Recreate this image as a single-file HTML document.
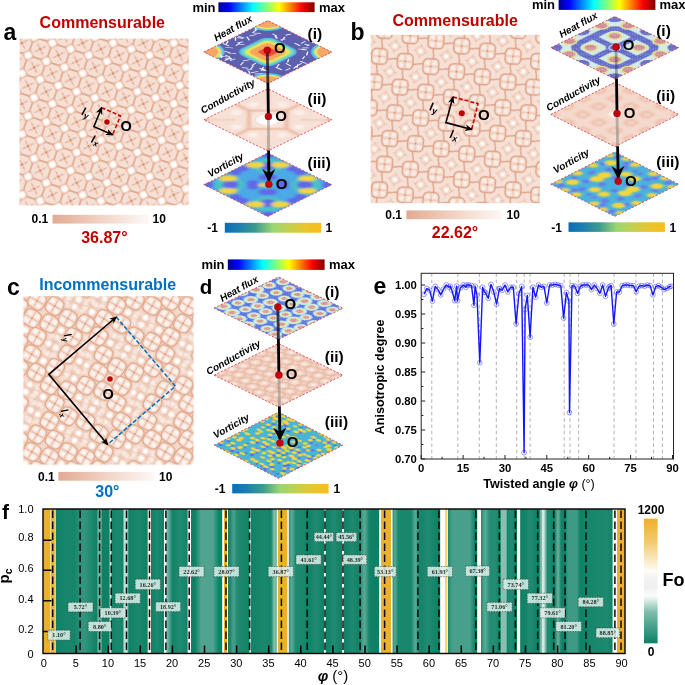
<!DOCTYPE html>
<html><head><meta charset="utf-8"><title>figure</title>
<style>html,body{margin:0;padding:0;background:#fff}svg{display:block}text{font-family:"Liberation Sans",Arial,sans-serif}.se{font-family:"Liberation Serif","Times New Roman",serif}</style>
</head><body>
<svg width="685" height="685" viewBox="0 0 685 685">
<defs>
<linearGradient id="jet" x1="0" x2="1" y1="0" y2="0">
<stop offset="0" stop-color="#00008f"/><stop offset="0.11" stop-color="#0000ff"/><stop offset="0.36" stop-color="#00ffff"/>
<stop offset="0.5" stop-color="#7fff7f"/><stop offset="0.63" stop-color="#ffff00"/><stop offset="0.87" stop-color="#ff0000"/><stop offset="1" stop-color="#7f0000"/></linearGradient>
<linearGradient id="par" x1="0" x2="1" y1="0" y2="0">
<stop offset="0" stop-color="#0b6cba"/><stop offset="0.15" stop-color="#1d7fae"/><stop offset="0.32" stop-color="#3d9b8e"/><stop offset="0.5" stop-color="#9bd672"/>
<stop offset="0.68" stop-color="#c6cf4c"/><stop offset="0.85" stop-color="#ecc42c"/><stop offset="1" stop-color="#f6be1c"/></linearGradient>
<linearGradient id="sal" x1="0" x2="1" y1="0" y2="0">
<stop offset="0" stop-color="#e2aa92"/><stop offset="0.5" stop-color="#f1d3c5"/><stop offset="1" stop-color="#fdf8f6"/></linearGradient>
<linearGradient id="fo" x1="0" x2="0" y1="0" y2="1">
<stop offset="0" stop-color="#ecb02a"/><stop offset="0.2" stop-color="#f3cd75"/><stop offset="0.42" stop-color="#fefcf6"/><stop offset="0.48" stop-color="#f2f2f2"/><stop offset="0.55" stop-color="#efefef"/>
<stop offset="0.62" stop-color="#fbfdfc"/><stop offset="0.75" stop-color="#7dbdac"/><stop offset="1" stop-color="#0d8064"/></linearGradient>
<radialGradient id="wb"><stop offset="0" stop-color="#fff"/><stop offset="0.3" stop-color="#fffdfc"/><stop offset="0.55" stop-color="#fcf1ec" stop-opacity="0.85"/><stop offset="0.8" stop-color="#f8e4da" stop-opacity="0.32"/><stop offset="1" stop-color="#f6e0d5" stop-opacity="0"/></radialGradient>
<filter id="bl4" x="-5%" y="-5%" width="110%" height="110%"><feGaussianBlur stdDeviation="0.6"/></filter>
<filter id="bl3" x="-5%" y="-5%" width="110%" height="110%"><feGaussianBlur stdDeviation="0.55"/></filter>
<pattern id="texa" width="19.2" height="19.2" patternUnits="userSpaceOnUse" patternTransform="translate(107,122) rotate(18.43)"><rect width="19.2" height="19.2" fill="#f6e0d5"/><polygon points="19.20,5.62 19.20,13.58 13.58,19.20 5.62,19.20 0.00,13.58 0.00,5.62 5.62,0.00 13.58,0.00" fill="none" stroke="#e3ac91" stroke-width="1.75" stroke-linejoin="round"/><path d="M5.00 5.00L14.20 14.20M5.00 14.20L14.20 5.00" stroke="#e9bba5" stroke-width="1.0" stroke-linecap="round"/><path d="M6.40 9.6h6.4M9.6 6.40v6.4" stroke="#e9bba5" stroke-width="0.6" stroke-opacity="0.7"/><circle cx="12.45" cy="12.45" r="0.75" fill="#d68f6d" fill-opacity="0.75"/><circle cx="6.75" cy="12.45" r="0.75" fill="#d68f6d" fill-opacity="0.75"/><circle cx="12.45" cy="6.75" r="0.75" fill="#d68f6d" fill-opacity="0.75"/><circle cx="6.75" cy="6.75" r="0.75" fill="#d68f6d" fill-opacity="0.75"/><circle cx="9.6" cy="9.6" r="1.25" fill="#d68f6d"/><circle cx="0" cy="0" r="5.7" fill="url(#wb)"/><circle cx="19.2" cy="0" r="5.7" fill="url(#wb)"/><circle cx="0" cy="19.2" r="5.7" fill="url(#wb)"/><circle cx="19.2" cy="19.2" r="5.7" fill="url(#wb)"/></pattern>
<pattern id="texb" width="26.2" height="26.2" patternUnits="userSpaceOnUse" patternTransform="translate(461.7,112.8) rotate(11.31)"><rect width="26.2" height="26.2" fill="#f6e0d5"/><g transform="rotate(-7 13.1 13.1)"><rect x="5.30" y="5.30" width="15.6" height="15.6" rx="4.6" fill="none" stroke="#dfa287" stroke-width="1.5"/><path d="M6.30 13.1h13.6M13.1 6.30v13.6" stroke="#e9bba5" stroke-width="0.8"/><circle cx="16.7" cy="16.7" r="1.9" fill="#fbf1ec" fill-opacity="0.8"/><circle cx="9.5" cy="16.7" r="1.9" fill="#fbf1ec" fill-opacity="0.8"/><circle cx="16.7" cy="9.5" r="1.9" fill="#fbf1ec" fill-opacity="0.8"/><circle cx="9.5" cy="9.5" r="1.9" fill="#fbf1ec" fill-opacity="0.8"/><circle cx="13.1" cy="13.1" r="1.0" fill="#d68f6d"/></g><path d="M14.00 5.30Q14.30 2.65 13.1 0M12.20 20.90Q11.90 23.55 13.1 26.2M5.30 12.20Q2.65 11.90 0 13.1M20.90 14.00Q23.55 14.30 26.2 13.1" fill="none" stroke="#dfa287" stroke-width="1.4"/><path d="M-6 0L0 -6L6 0L0 6Z" fill="none" stroke="#e9bba5" stroke-width="0.95" stroke-opacity="1"/><path d="M-7.5 0h15M0 -7.5v15" stroke="#e9bba5" stroke-width="0.8" stroke-opacity="0.9"/><circle cx="0" cy="0" r="3.6" fill="url(#wb)"/><path d="M20.2 0L26.2 -6L32.2 0L26.2 6Z" fill="none" stroke="#e9bba5" stroke-width="0.95" stroke-opacity="1"/><path d="M18.7 0h15M26.2 -7.5v15" stroke="#e9bba5" stroke-width="0.8" stroke-opacity="0.9"/><circle cx="26.2" cy="0" r="3.6" fill="url(#wb)"/><path d="M-6 26.2L0 20.2L6 26.2L0 32.2Z" fill="none" stroke="#e9bba5" stroke-width="0.95" stroke-opacity="1"/><path d="M-7.5 26.2h15M0 18.7v15" stroke="#e9bba5" stroke-width="0.8" stroke-opacity="0.9"/><circle cx="0" cy="26.2" r="3.6" fill="url(#wb)"/><path d="M20.2 26.2L26.2 20.2L32.2 26.2L26.2 32.2Z" fill="none" stroke="#e9bba5" stroke-width="0.95" stroke-opacity="1"/><path d="M18.7 26.2h15M26.2 18.7v15" stroke="#e9bba5" stroke-width="0.8" stroke-opacity="0.9"/><circle cx="26.2" cy="26.2" r="3.6" fill="url(#wb)"/></pattern>
<pattern id="texc1" width="8.6" height="8.6" patternUnits="userSpaceOnUse" patternTransform="translate(110,379) rotate(45) translate(-4.3,-4.3)"><rect x="0" y="0" width="8.60" height="8.60" rx="2.8" fill="none" stroke="#e3ac91" stroke-width="1.2" stroke-opacity="0.36"/><circle cx="4.3" cy="4.3" r="2.1" fill="#fff" fill-opacity="0.4"/></pattern>
<pattern id="texc2" width="8.6" height="8.6" patternUnits="userSpaceOnUse" patternTransform="translate(110,379) rotate(15) translate(-4.3,-4.3)"><rect x="0" y="0" width="8.60" height="8.60" rx="2.8" fill="none" stroke="#e3ac91" stroke-width="1.2" stroke-opacity="0.36"/><circle cx="4.3" cy="4.3" r="2.1" fill="#fff" fill-opacity="0.4"/></pattern>
<g id="cm"><rect x="-8.3" y="-8.3" width="16.6" height="16.6" rx="5.2" fill="#f6e0d5" stroke="#e3ac91" stroke-width="1.35"/><path d="M-7.300000000000001 0H7.300000000000001M0 -7.300000000000001V7.300000000000001" stroke="#e9bba5" stroke-width="1.0"/><circle cx="3.9" cy="3.9" r="2.3" fill="#fdf6f2" fill-opacity="0.85"/><circle cx="-3.9" cy="3.9" r="2.3" fill="#fdf6f2" fill-opacity="0.85"/><circle cx="3.9" cy="-3.9" r="2.3" fill="#fdf6f2" fill-opacity="0.85"/><circle cx="-3.9" cy="-3.9" r="2.3" fill="#fdf6f2" fill-opacity="0.85"/><circle r="1.0" fill="#d68f6d" fill-opacity="0.8"/></g>
<clipPath id="cclip"><rect x="22.8" y="295.6" width="171.4" height="169.6"/></clipPath>
<marker id="ah" viewBox="0 0 10 10" refX="8.5" refY="5" markerWidth="5.2" markerHeight="5.2" orient="auto-start-reverse"><path d="M0 0.8L10 5L0 9.2L2.8 5Z" fill="#000"/></marker>
<marker id="ahL" viewBox="0 0 10 10" refX="8.8" refY="5" markerWidth="4.6" markerHeight="4.6" orient="auto-start-reverse"><path d="M0 0.5L10 5L0 9.5L3 5Z" fill="#000"/></marker>
<filter id="sb2" x="-20%" y="-20%" width="140%" height="140%"><feGaussianBlur stdDeviation="2"/></filter>
<filter id="sb3" x="-20%" y="-20%" width="140%" height="140%"><feGaussianBlur stdDeviation="3.2"/></filter>
<filter id="sb15" x="-20%" y="-20%" width="140%" height="140%"><feGaussianBlur stdDeviation="1.6"/></filter>
<filter id="sb08" x="-20%" y="-20%" width="140%" height="140%"><feGaussianBlur stdDeviation="0.9"/></filter>
<filter id="sb1" x="-20%" y="-20%" width="140%" height="140%"><feGaussianBlur stdDeviation="1.1"/></filter>
<filter id="sb05" x="-20%" y="-20%" width="140%" height="140%"><feGaussianBlur stdDeviation="0.6"/></filter>
<pattern id="mdots" width="2.6" height="2.6" patternUnits="userSpaceOnUse"><circle cx="0.8" cy="0.8" r="0.75" fill="#a8404e"/><circle cx="2.1" cy="2.1" r="0.6" fill="#b85060"/></pattern>
<pattern id="condd" width="15" height="15" patternUnits="userSpaceOnUse" patternTransform="rotate(15)"><rect x="1" y="1" width="13" height="13" rx="4.5" fill="none" stroke="#e3ac94" stroke-width="1.5"/><circle cx="7.5" cy="7.5" r="2.8" fill="#fbeee8"/></pattern>
<marker id="av" viewBox="0 0 10 10" refX="9" refY="5" markerWidth="4.7" markerHeight="4.7" orient="auto"><path d="M0 0L10 5L0 10L3.2 5Z" fill="#000"/></marker>
<linearGradient id="lfade" x1="0" x2="0" y1="0" y2="1"><stop offset="0" stop-color="#7a3a30"/><stop offset="0.5" stop-color="#2a2030"/><stop offset="1" stop-color="#000"/></linearGradient>
<clipPath id="dc1"><rect x="-50" y="-50" width="100" height="100"/></clipPath>
<clipPath id="dc2"><rect x="-50" y="-50" width="100" height="100"/></clipPath>
<clipPath id="dc3"><rect x="-50" y="-50" width="100" height="100"/></clipPath>
<pattern id="wdots" width="4" height="4" patternUnits="userSpaceOnUse"><circle cx="1" cy="1" r="0.7" fill="#fff" fill-opacity="0.8"/><circle cx="3" cy="3" r="0.6" fill="#fff" fill-opacity="0.6"/></pattern>
<clipPath id="dc4"><rect x="-50" y="-50" width="100" height="100"/></clipPath>
<clipPath id="dc5"><rect x="-50" y="-50" width="100" height="100"/></clipPath>
<clipPath id="dc6"><rect x="-50" y="-50" width="100" height="100"/></clipPath>
<clipPath id="dc7"><rect x="-50" y="-50" width="100" height="100"/></clipPath>
<clipPath id="dc8"><rect x="-50" y="-50" width="100" height="100"/></clipPath>
<clipPath id="dc9"><rect x="-50" y="-50" width="100" height="100"/></clipPath>
<linearGradient id="heat" x1="0" x2="1" y1="0" y2="0"><stop offset="0.00000" stop-color="#ecb02a"/><stop offset="0.01203" stop-color="#ecb02a"/><stop offset="0.01246" stop-color="#eeb73c"/><stop offset="0.01289" stop-color="#f8dc98"/><stop offset="0.01332" stop-color="#f8dc98"/><stop offset="0.01375" stop-color="#f4cd74"/><stop offset="0.01418" stop-color="#ecb02a"/><stop offset="0.01933" stop-color="#ecb02a"/><stop offset="0.01976" stop-color="#f0c159"/><stop offset="0.02019" stop-color="#e2e8d4"/><stop offset="0.02062" stop-color="#e5f1eb"/><stop offset="0.02105" stop-color="#e5f1eb"/><stop offset="0.02148" stop-color="#b0d5ca"/><stop offset="0.02191" stop-color="#2a9076"/><stop offset="0.02234" stop-color="#0f8266"/><stop offset="0.04124" stop-color="#18866c"/><stop offset="0.05369" stop-color="#158569"/><stop offset="0.05971" stop-color="#218b71"/><stop offset="0.06701" stop-color="#34957e"/><stop offset="0.07216" stop-color="#32947c"/><stop offset="0.09107" stop-color="#108266"/><stop offset="0.09192" stop-color="#0f8266"/><stop offset="0.09450" stop-color="#6ab1a0"/><stop offset="0.09966" stop-color="#6ab1a0"/><stop offset="0.10223" stop-color="#0e8165"/><stop offset="0.11340" stop-color="#0e8165"/><stop offset="0.11383" stop-color="#1b886d"/><stop offset="0.11512" stop-color="#d9eae4"/><stop offset="0.11684" stop-color="#d9eae4"/><stop offset="0.11813" stop-color="#1c886e"/><stop offset="0.11856" stop-color="#108266"/><stop offset="0.12887" stop-color="#1e896f"/><stop offset="0.13660" stop-color="#138468"/><stop offset="0.13703" stop-color="#18866b"/><stop offset="0.13960" stop-color="#b7d9d1"/><stop offset="0.14003" stop-color="#bcdcd4"/><stop offset="0.14433" stop-color="#bcdcd4"/><stop offset="0.14476" stop-color="#b6d9d1"/><stop offset="0.14734" stop-color="#158569"/><stop offset="0.14777" stop-color="#108266"/><stop offset="0.16237" stop-color="#1b886d"/><stop offset="0.17912" stop-color="#0f8165"/><stop offset="0.17955" stop-color="#53a389"/><stop offset="0.18041" stop-color="#fdf6e4"/><stop offset="0.18471" stop-color="#fdf6e4"/><stop offset="0.18514" stop-color="#caddc9"/><stop offset="0.18600" stop-color="#208a6f"/><stop offset="0.18643" stop-color="#0f8266"/><stop offset="0.19631" stop-color="#1e896f"/><stop offset="0.20662" stop-color="#0f8165"/><stop offset="0.20704" stop-color="#0f8165"/><stop offset="0.20747" stop-color="#479f89"/><stop offset="0.20790" stop-color="#a5d0c3"/><stop offset="0.20833" stop-color="#f1f7f3"/><stop offset="0.21134" stop-color="#f1f7f3"/><stop offset="0.21177" stop-color="#cce4dd"/><stop offset="0.21220" stop-color="#9bcbbf"/><stop offset="0.21263" stop-color="#83beb0"/><stop offset="0.22251" stop-color="#118367"/><stop offset="0.23497" stop-color="#228b72"/><stop offset="0.24227" stop-color="#1a876d"/><stop offset="0.24785" stop-color="#128367"/><stop offset="0.24828" stop-color="#60ac98"/><stop offset="0.24871" stop-color="#c2ded5"/><stop offset="0.24914" stop-color="#fdfdfa"/><stop offset="0.25387" stop-color="#fdfdfa"/><stop offset="0.25430" stop-color="#add4c8"/><stop offset="0.25473" stop-color="#4aa08a"/><stop offset="0.25515" stop-color="#0e8165"/><stop offset="0.26117" stop-color="#0e8165"/><stop offset="0.27148" stop-color="#4fa38f"/><stop offset="0.29210" stop-color="#4fa38f"/><stop offset="0.30241" stop-color="#0e8165"/><stop offset="0.30756" stop-color="#0e8165"/><stop offset="0.30799" stop-color="#56a692"/><stop offset="0.30842" stop-color="#cde4dc"/><stop offset="0.30885" stop-color="#fdfdfa"/><stop offset="0.31014" stop-color="#fdfdfa"/><stop offset="0.31100" stop-color="#ecb02a"/><stop offset="0.31572" stop-color="#ecb02a"/><stop offset="0.31615" stop-color="#f2ca6f"/><stop offset="0.31658" stop-color="#fdfdfa"/><stop offset="0.31744" stop-color="#fdfdfa"/><stop offset="0.31787" stop-color="#9eccbf"/><stop offset="0.31830" stop-color="#278e75"/><stop offset="0.31873" stop-color="#108266"/><stop offset="0.32174" stop-color="#1b886d"/><stop offset="0.32646" stop-color="#469e89"/><stop offset="0.32818" stop-color="#479f89"/><stop offset="0.33290" stop-color="#258d74"/><stop offset="0.33634" stop-color="#1e896f"/><stop offset="0.34708" stop-color="#18866b"/><stop offset="0.35395" stop-color="#128367"/><stop offset="0.35438" stop-color="#3e9a83"/><stop offset="0.35481" stop-color="#87c0b1"/><stop offset="0.35524" stop-color="#c2ded5"/><stop offset="0.35653" stop-color="#c2ded5"/><stop offset="0.35696" stop-color="#96c7ba"/><stop offset="0.35739" stop-color="#4ca18b"/><stop offset="0.35782" stop-color="#118267"/><stop offset="0.37801" stop-color="#1b886d"/><stop offset="0.39003" stop-color="#148469"/><stop offset="0.39175" stop-color="#1c886e"/><stop offset="0.39304" stop-color="#2b9078"/><stop offset="0.39433" stop-color="#469e89"/><stop offset="0.39648" stop-color="#7abaaa"/><stop offset="0.39734" stop-color="#85bfb1"/><stop offset="0.39820" stop-color="#85bfb1"/><stop offset="0.39905" stop-color="#7abaaa"/><stop offset="0.40077" stop-color="#50a48f"/><stop offset="0.40120" stop-color="#83beae"/><stop offset="0.40163" stop-color="#cce4dc"/><stop offset="0.40206" stop-color="#fdfdfa"/><stop offset="0.40292" stop-color="#fdfdfa"/><stop offset="0.40335" stop-color="#faf0d7"/><stop offset="0.40378" stop-color="#ecb02a"/><stop offset="0.41838" stop-color="#ecb12c"/><stop offset="0.41967" stop-color="#ecb22f"/><stop offset="0.42010" stop-color="#f8e4b7"/><stop offset="0.42053" stop-color="#fdfdfa"/><stop offset="0.42139" stop-color="#fdfdfa"/><stop offset="0.42182" stop-color="#d9eae4"/><stop offset="0.42225" stop-color="#80bcac"/><stop offset="0.42268" stop-color="#2b9078"/><stop offset="0.42569" stop-color="#4fa38f"/><stop offset="0.42698" stop-color="#57a794"/><stop offset="0.42826" stop-color="#55a693"/><stop offset="0.43041" stop-color="#429c86"/><stop offset="0.43299" stop-color="#278e75"/><stop offset="0.43557" stop-color="#1d896e"/><stop offset="0.44545" stop-color="#1c886e"/><stop offset="0.45662" stop-color="#118267"/><stop offset="0.46306" stop-color="#18866c"/><stop offset="0.46907" stop-color="#228b72"/><stop offset="0.47552" stop-color="#17866b"/><stop offset="0.48196" stop-color="#0f8166"/><stop offset="0.48239" stop-color="#479f89"/><stop offset="0.48282" stop-color="#a6d0c4"/><stop offset="0.48325" stop-color="#f1f7f3"/><stop offset="0.48497" stop-color="#f1f7f3"/><stop offset="0.48540" stop-color="#cbe3db"/><stop offset="0.48625" stop-color="#0f8165"/><stop offset="0.49356" stop-color="#17866b"/><stop offset="0.50000" stop-color="#228b72"/><stop offset="0.50644" stop-color="#17866b"/><stop offset="0.51332" stop-color="#0f8165"/><stop offset="0.51375" stop-color="#5aa894"/><stop offset="0.51418" stop-color="#b8d9cf"/><stop offset="0.51460" stop-color="#f1f7f3"/><stop offset="0.51632" stop-color="#f1f7f3"/><stop offset="0.51675" stop-color="#b8d9cf"/><stop offset="0.51718" stop-color="#5aa894"/><stop offset="0.51761" stop-color="#0f8165"/><stop offset="0.52577" stop-color="#18866b"/><stop offset="0.53179" stop-color="#1e896f"/><stop offset="0.54081" stop-color="#138468"/><stop offset="0.54381" stop-color="#1a876d"/><stop offset="0.54682" stop-color="#30937b"/><stop offset="0.55026" stop-color="#50a48f"/><stop offset="0.55198" stop-color="#56a793"/><stop offset="0.55412" stop-color="#4ea38e"/><stop offset="0.55928" stop-color="#208a70"/><stop offset="0.56229" stop-color="#128368"/><stop offset="0.57002" stop-color="#0e8165"/><stop offset="0.57689" stop-color="#0e8165"/><stop offset="0.57732" stop-color="#30937a"/><stop offset="0.57818" stop-color="#dbebe5"/><stop offset="0.57861" stop-color="#fdfdfa"/><stop offset="0.58076" stop-color="#fdfdfa"/><stop offset="0.58119" stop-color="#efbd4d"/><stop offset="0.58162" stop-color="#ecb02a"/><stop offset="0.59708" stop-color="#ecb02b"/><stop offset="0.59751" stop-color="#faf0d8"/><stop offset="0.59794" stop-color="#fdfdfa"/><stop offset="0.59966" stop-color="#fdfdfa"/><stop offset="0.60009" stop-color="#edf5f0"/><stop offset="0.60095" stop-color="#56a692"/><stop offset="0.60137" stop-color="#2e9279"/><stop offset="0.60352" stop-color="#4ca18d"/><stop offset="0.60481" stop-color="#53a591"/><stop offset="0.60610" stop-color="#4da28d"/><stop offset="0.60954" stop-color="#238c72"/><stop offset="0.61168" stop-color="#19876c"/><stop offset="0.62457" stop-color="#1a876c"/><stop offset="0.63144" stop-color="#18866b"/><stop offset="0.63359" stop-color="#218b71"/><stop offset="0.63617" stop-color="#3b9882"/><stop offset="0.63832" stop-color="#52a490"/><stop offset="0.63960" stop-color="#57a794"/><stop offset="0.64089" stop-color="#53a591"/><stop offset="0.64347" stop-color="#36967f"/><stop offset="0.64562" stop-color="#208a70"/><stop offset="0.64777" stop-color="#15856a"/><stop offset="0.65206" stop-color="#16856a"/><stop offset="0.66108" stop-color="#228b72"/><stop offset="0.66838" stop-color="#1a876d"/><stop offset="0.67826" stop-color="#0f8266"/><stop offset="0.68213" stop-color="#0e8165"/><stop offset="0.68299" stop-color="#d5e8e1"/><stop offset="0.68342" stop-color="#fdfdfa"/><stop offset="0.69029" stop-color="#fdfdfa"/><stop offset="0.69072" stop-color="#fcf4e0"/><stop offset="0.69115" stop-color="#f8dfa0"/><stop offset="0.69158" stop-color="#f6d27a"/><stop offset="0.69416" stop-color="#f6d27a"/><stop offset="0.69459" stop-color="#f7d788"/><stop offset="0.69502" stop-color="#faecc8"/><stop offset="0.69545" stop-color="#fdfdfa"/><stop offset="0.69588" stop-color="#b1d6cb"/><stop offset="0.69631" stop-color="#55a691"/><stop offset="0.69674" stop-color="#1f8a70"/><stop offset="0.70275" stop-color="#489f8a"/><stop offset="0.73368" stop-color="#489f8a"/><stop offset="0.74227" stop-color="#0e8165"/><stop offset="0.74570" stop-color="#0f8165"/><stop offset="0.74656" stop-color="#d5e6d7"/><stop offset="0.74699" stop-color="#fdfaee"/><stop offset="0.75172" stop-color="#fdfaef"/><stop offset="0.75215" stop-color="#c6decf"/><stop offset="0.75258" stop-color="#6bb09b"/><stop offset="0.75301" stop-color="#258d74"/><stop offset="0.75816" stop-color="#52a490"/><stop offset="0.76031" stop-color="#56a793"/><stop offset="0.76246" stop-color="#4ba18c"/><stop offset="0.76675" stop-color="#2a8f77"/><stop offset="0.76933" stop-color="#228c72"/><stop offset="0.77620" stop-color="#258d74"/><stop offset="0.78522" stop-color="#118367"/><stop offset="0.78780" stop-color="#87c0b2"/><stop offset="0.79553" stop-color="#88c1b3"/><stop offset="0.79811" stop-color="#15856a"/><stop offset="0.80369" stop-color="#228b72"/><stop offset="0.80799" stop-color="#1b886d"/><stop offset="0.81400" stop-color="#0f8266"/><stop offset="0.81443" stop-color="#37967c"/><stop offset="0.81529" stop-color="#fdfaee"/><stop offset="0.81959" stop-color="#fdfaee"/><stop offset="0.82045" stop-color="#36957c"/><stop offset="0.82088" stop-color="#0e8165"/><stop offset="0.82904" stop-color="#148469"/><stop offset="0.83634" stop-color="#228b72"/><stop offset="0.84192" stop-color="#1a876d"/><stop offset="0.84923" stop-color="#0f8266"/><stop offset="0.85266" stop-color="#0e8165"/><stop offset="0.85309" stop-color="#1f8a70"/><stop offset="0.85481" stop-color="#73b6a6"/><stop offset="0.85610" stop-color="#73b6a6"/><stop offset="0.85653" stop-color="#7fbcae"/><stop offset="0.85739" stop-color="#bddcd5"/><stop offset="0.85782" stop-color="#d5e9e4"/><stop offset="0.86082" stop-color="#d5e9e4"/><stop offset="0.86125" stop-color="#cfe6e0"/><stop offset="0.86254" stop-color="#75b7a7"/><stop offset="0.86426" stop-color="#77b8a8"/><stop offset="0.86598" stop-color="#2a9077"/><stop offset="0.86641" stop-color="#1c886e"/><stop offset="0.86985" stop-color="#228b72"/><stop offset="0.87672" stop-color="#118267"/><stop offset="0.87887" stop-color="#148469"/><stop offset="0.88058" stop-color="#238c72"/><stop offset="0.88359" stop-color="#58a895"/><stop offset="0.88445" stop-color="#61ac9a"/><stop offset="0.88531" stop-color="#61ac9a"/><stop offset="0.88660" stop-color="#52a490"/><stop offset="0.88918" stop-color="#238c72"/><stop offset="0.89089" stop-color="#148469"/><stop offset="0.89433" stop-color="#0e8165"/><stop offset="0.89691" stop-color="#0e8165"/><stop offset="0.90206" stop-color="#3e9a84"/><stop offset="0.91753" stop-color="#3e9a84"/><stop offset="0.92268" stop-color="#0f8165"/><stop offset="0.95060" stop-color="#1b886d"/><stop offset="0.96091" stop-color="#1b886e"/><stop offset="0.96821" stop-color="#208a70"/><stop offset="0.97809" stop-color="#108266"/><stop offset="0.97852" stop-color="#6fb3a1"/><stop offset="0.97895" stop-color="#e5f1eb"/><stop offset="0.97938" stop-color="#fdfdfa"/><stop offset="0.98540" stop-color="#fdfdfa"/><stop offset="0.98625" stop-color="#ecb02a"/><stop offset="1.00000" stop-color="#ecb02a"/></linearGradient>
</defs>
<rect width="685" height="685" fill="#fff"/>
<rect x="19" y="38" width="170.2" height="168" fill="url(#texa)" filter="url(#bl4)"/>
<rect x="19" y="38" width="170.2" height="168" fill="none" stroke="#fff" stroke-width="1.2"/>
<rect x="370" y="34.2" width="170.5" height="169.6" fill="url(#texb)" filter="url(#bl3)"/>
<rect x="370" y="34.2" width="170.5" height="169.6" fill="none" stroke="#fff" stroke-width="1.2"/>
<g filter="url(#bl3)"><rect x="22.8" y="295.6" width="171.4" height="169.6" fill="#f6e0d5"/>
<rect x="22.8" y="295.6" width="171.4" height="169.6" fill="url(#texc1)"/>
<rect x="22.8" y="295.6" width="171.4" height="169.6" fill="url(#texc2)"/>
<g clip-path="url(#cclip)"><use href="#cm" transform="translate(85.6,287.8) rotate(30)"/><use href="#cm" transform="translate(134.4,470.2) rotate(30)"/><use href="#cm" transform="translate(18.8,403.4) rotate(30)"/><use href="#cm" transform="translate(201.2,354.6) rotate(30)"/><use href="#cm" transform="translate(85.5,421.5) rotate(30)"/><use href="#cm" transform="translate(152.5,403.5) rotate(30)"/><use href="#cm" transform="translate(67.5,354.5) rotate(30)"/><use href="#cm" transform="translate(134.5,336.5) rotate(30)"/><use href="#cm" transform="translate(18.6,305.8) rotate(30)"/><use href="#cm" transform="translate(201.4,452.2) rotate(30)"/><use href="#cm" transform="translate(183.2,287.6) rotate(30)"/><use href="#cm" transform="translate(36.8,470.4) rotate(30)"/><use href="#cm" transform="translate(183.2,421.2) rotate(30)"/><use href="#cm" transform="translate(36.8,336.8) rotate(30)"/><use href="#cm" transform="translate(152.2,305.8) rotate(30)"/><use href="#cm" transform="translate(67.8,452.2) rotate(30)"/><use href="#cm" transform="translate(85.8,385.5) rotate(30)"/><use href="#cm" transform="translate(134.2,372.5) rotate(30)"/><use href="#cm" transform="translate(103.5,354.8) rotate(30)"/><use href="#cm" transform="translate(116.5,403.2) rotate(30)"/><use href="#cm" transform="translate(201.5,318.6) rotate(30)"/><use href="#cm" transform="translate(170.4,470.5) rotate(30)"/><use href="#cm" transform="translate(18.5,439.4) rotate(30)"/><use href="#cm" transform="translate(49.6,287.5) rotate(30)"/><use href="#cm" transform="translate(152.2,439.5) rotate(30)"/><use href="#cm" transform="translate(36.5,372.7) rotate(30)"/><use href="#cm" transform="translate(67.8,318.5) rotate(30)"/><use href="#cm" transform="translate(116.3,305.5) rotate(30)"/><use href="#cm" transform="translate(103.7,452.5) rotate(30)"/><use href="#cm" transform="translate(183.5,385.3) rotate(30)"/><use href="#cm" transform="translate(49.5,421.2) rotate(30)"/><use href="#cm" transform="translate(170.5,336.8) rotate(30)"/><use href="#cm" transform="translate(170.2,372.8) rotate(30)"/><use href="#cm" transform="translate(85.3,323.8) rotate(30)"/><use href="#cm" transform="translate(134.7,434.2) rotate(30)"/><use href="#cm" transform="translate(49.8,385.2) rotate(30)"/><use href="#cm" transform="translate(165.2,354.3) rotate(30)"/><use href="#cm" transform="translate(54.8,403.7) rotate(30)"/><use href="#cm" transform="translate(103.8,318.8) rotate(30)"/><use href="#cm" transform="translate(116.2,439.2) rotate(30)"/><use href="#cm" transform="translate(182.9,323.6) rotate(30)"/><use href="#cm" transform="translate(37.1,434.4) rotate(30)"/><use href="#cm" transform="translate(121.5,288.1) rotate(30)"/><use href="#cm" transform="translate(54.6,306.1) rotate(30)"/><use href="#cm" transform="translate(98.5,469.9) rotate(30)"/><use href="#cm" transform="translate(165.4,451.9) rotate(30)"/><use href="#cm" transform="translate(200.9,390.5) rotate(30)"/><use href="#cm" transform="translate(19.1,367.5) rotate(30)"/><use href="#cm" transform="translate(67.2,390.5) rotate(30)"/><use href="#cm" transform="translate(152.8,367.5) rotate(30)"/><use href="#cm" transform="translate(98.5,336.2) rotate(30)"/><use href="#cm" transform="translate(121.5,421.8) rotate(30)"/><use href="#cm" transform="translate(31.6,354.2) rotate(30)"/><use href="#cm" transform="translate(188.4,403.8) rotate(30)"/><use href="#cm" transform="translate(165.5,318.3) rotate(30)"/><use href="#cm" transform="translate(54.5,439.7) rotate(30)"/><use href="#cm" transform="translate(85.2,457.4) rotate(30)"/><use href="#cm" transform="translate(170.7,434.5) rotate(30)"/><use href="#cm" transform="translate(49.3,323.5) rotate(30)"/><use href="#cm" transform="translate(134.8,300.6) rotate(30)"/><use href="#cm" transform="translate(116.8,367.2) rotate(30)"/><use href="#cm" transform="translate(103.2,390.8) rotate(30)"/><use href="#cm" transform="translate(98.2,372.2) rotate(30)"/><use href="#cm" transform="translate(121.8,385.8) rotate(30)"/><use href="#cm" transform="translate(182.9,457.2) rotate(30)"/><use href="#cm" transform="translate(188.2,306.1) rotate(30)"/><use href="#cm" transform="translate(37.1,300.8) rotate(30)"/><use href="#cm" transform="translate(31.8,451.9) rotate(30)"/><use href="#cm" transform="translate(170.8,300.9) rotate(30)"/><use href="#cm" transform="translate(49.2,457.1) rotate(30)"/><use href="#cm" transform="translate(31.9,318.2) rotate(30)"/><use href="#cm" transform="translate(188.1,439.8) rotate(30)"/><use href="#cm" transform="translate(18.3,341.7) rotate(30)"/><use href="#cm" transform="translate(147.3,287.3) rotate(30)"/><use href="#cm" transform="translate(72.7,470.7) rotate(30)"/><use href="#cm" transform="translate(201.7,416.3) rotate(30)"/><use href="#cm" transform="translate(72.8,337.1) rotate(30)"/><use href="#cm" transform="translate(147.2,420.9) rotate(30)"/><use href="#cm" transform="translate(55.1,367.8) rotate(30)"/><use href="#cm" transform="translate(121.2,324.1) rotate(30)"/><use href="#cm" transform="translate(164.9,390.2) rotate(30)"/><use href="#cm" transform="translate(98.8,433.9) rotate(30)"/><use href="#cm" transform="translate(68.1,416.2) rotate(30)"/><use href="#cm" transform="translate(151.9,341.8) rotate(30)"/><circle cx="110.0" cy="379.0" r="4.8" fill="url(#wb)"/><circle cx="92.0" cy="445.7" r="4.6" fill="url(#wb)"/><circle cx="128.0" cy="312.3" r="4.6" fill="url(#wb)"/><circle cx="158.9" cy="427.7" r="4.6" fill="url(#wb)"/><circle cx="127.9" cy="446.0" r="4.6" fill="url(#wb)"/><circle cx="177.0" cy="361.1" r="4.6" fill="url(#wb)"/><circle cx="43.0" cy="396.9" r="4.6" fill="url(#wb)"/><circle cx="61.3" cy="427.9" r="4.6" fill="url(#wb)"/><circle cx="61.1" cy="330.3" r="4.6" fill="url(#wb)"/><circle cx="43.3" cy="361.0" r="4.6" fill="url(#wb)"/><circle cx="158.7" cy="330.1" r="4.6" fill="url(#wb)"/><circle cx="176.7" cy="397.0" r="4.6" fill="url(#wb)"/><circle cx="92.1" cy="312.0" r="4.6" fill="url(#wb)"/><circle cx="110.2" cy="476.7" r="4.5" fill="url(#wb)"/><circle cx="25.1" cy="330.0" r="4.5" fill="url(#wb)"/><circle cx="194.9" cy="428.0" r="4.5" fill="url(#wb)"/><circle cx="194.7" cy="330.4" r="4.5" fill="url(#wb)"/><circle cx="25.3" cy="427.6" r="4.5" fill="url(#wb)"/><circle cx="12.3" cy="379.2" r="4.5" fill="url(#wb)"/><circle cx="159.0" cy="294.1" r="4.5" fill="url(#wb)"/><circle cx="61.0" cy="463.9" r="4.5" fill="url(#wb)"/><circle cx="207.7" cy="378.8" r="4.5" fill="url(#wb)"/><circle cx="61.4" cy="294.3" r="4.5" fill="url(#wb)"/><circle cx="158.6" cy="463.7" r="4.5" fill="url(#wb)"/><circle cx="25.4" cy="294.0" r="4.5" fill="url(#wb)"/><circle cx="194.6" cy="464.0" r="4.5" fill="url(#wb)"/><circle cx="25.0" cy="463.6" r="4.5" fill="url(#wb)"/><circle cx="195.0" cy="294.4" r="4.5" fill="url(#wb)"/><circle cx="110.3" cy="343.0" r="4.4" fill="url(#wb)"/><circle cx="146.0" cy="379.3" r="4.4" fill="url(#wb)"/><circle cx="109.7" cy="415.0" r="4.4" fill="url(#wb)"/><circle cx="91.8" cy="348.0" r="4.4" fill="url(#wb)"/><circle cx="79.0" cy="397.2" r="4.4" fill="url(#wb)"/><circle cx="128.2" cy="410.0" r="4.4" fill="url(#wb)"/><circle cx="74.0" cy="378.7" r="4.4" fill="url(#wb)"/><circle cx="127.7" cy="348.3" r="4.4" fill="url(#wb)"/><circle cx="92.3" cy="409.7" r="4.4" fill="url(#wb)"/><circle cx="141.0" cy="360.8" r="4.4" fill="url(#wb)"/><circle cx="79.3" cy="361.3" r="4.4" fill="url(#wb)"/><circle cx="140.7" cy="396.7" r="4.4" fill="url(#wb)"/><circle cx="12.5" cy="476.9" r="4.4" fill="url(#wb)"/><circle cx="207.9" cy="476.5" r="4.4" fill="url(#wb)"/><circle cx="12.1" cy="281.5" r="4.4" fill="url(#wb)"/><circle cx="12.0" cy="415.2" r="4.4" fill="url(#wb)"/><circle cx="208.0" cy="342.8" r="4.4" fill="url(#wb)"/><circle cx="146.2" cy="477.0" r="4.4" fill="url(#wb)"/><circle cx="189.4" cy="347.8" r="4.3" fill="url(#wb)"/><circle cx="194.4" cy="366.3" r="4.3" fill="url(#wb)"/><circle cx="30.6" cy="410.2" r="4.3" fill="url(#wb)"/><circle cx="25.6" cy="391.7" r="4.3" fill="url(#wb)"/><circle cx="78.8" cy="299.6" r="4.3" fill="url(#wb)"/><circle cx="141.2" cy="458.4" r="4.3" fill="url(#wb)"/><circle cx="97.3" cy="294.6" r="4.3" fill="url(#wb)"/><circle cx="122.7" cy="463.4" r="4.3" fill="url(#wb)"/><circle cx="78.7" cy="433.2" r="4.2" fill="url(#wb)"/><circle cx="141.3" cy="324.8" r="4.2" fill="url(#wb)"/><circle cx="164.2" cy="410.3" r="4.2" fill="url(#wb)"/><circle cx="55.8" cy="347.7" r="4.2" fill="url(#wb)"/><circle cx="11.8" cy="317.5" r="4.1" fill="url(#wb)"/><circle cx="48.5" cy="477.2" r="4.1" fill="url(#wb)"/><circle cx="48.6" cy="343.5" r="4.1" fill="url(#wb)"/><circle cx="145.5" cy="317.6" r="4.1" fill="url(#wb)"/><circle cx="74.5" cy="440.4" r="4.1" fill="url(#wb)"/><circle cx="171.4" cy="414.5" r="4.1" fill="url(#wb)"/><circle cx="11.7" cy="451.2" r="4.0" fill="url(#wb)"/><circle cx="182.2" cy="477.3" r="4.0" fill="url(#wb)"/><circle cx="74.6" cy="306.8" r="4.0" fill="url(#wb)"/><circle cx="145.4" cy="451.2" r="4.0" fill="url(#wb)"/><circle cx="37.8" cy="414.4" r="4.0" fill="url(#wb)"/><circle cx="115.5" cy="459.2" r="4.0" fill="url(#wb)"/><circle cx="29.8" cy="384.5" r="4.0" fill="url(#wb)"/><circle cx="182.2" cy="343.6" r="4.0" fill="url(#wb)"/><circle cx="104.5" cy="298.8" r="4.0" fill="url(#wb)"/><circle cx="190.2" cy="373.5" r="4.0" fill="url(#wb)"/><circle cx="86.5" cy="365.4" r="3.8" fill="url(#wb)"/><circle cx="133.5" cy="392.6" r="3.8" fill="url(#wb)"/><circle cx="123.6" cy="355.5" r="3.8" fill="url(#wb)"/><circle cx="96.4" cy="402.5" r="3.8" fill="url(#wb)"/></g></g>
<rect x="22.8" y="295.6" width="171.4" height="169.6" fill="none" stroke="#fff" stroke-width="1.2"/>
<path d="M101.6 107.7L120.6 115.8L112.6 134.7" fill="none" stroke="#c00000" stroke-width="1.5" stroke-dasharray="4 2"/>
<path d="M101.6 107.7L93.9 126.7L112.6 134.7" fill="none" stroke="#000" stroke-width="1.5" marker-start="url(#ah)" marker-end="url(#ah)" stroke-linejoin="miter"/>
<circle cx="107" cy="122" r="2.8" fill="#c00000"/>
<text x="120.5" y="131" font-size="14.5" font-weight="bold" fill="#000" text-anchor="start" >O</text>
<text transform="translate(81.1,114.4) rotate(18)" font-size="11" font-weight="bold" font-style="italic">l<tspan font-size="8" dy="2.4">y</tspan></text>
<text transform="translate(90.6,142.2) rotate(18)" font-size="11" font-weight="bold" font-style="italic">l<tspan font-size="8" dy="2.4">x</tspan></text>
<path d="M453 97L478 103.7L471.7 129.4" fill="none" stroke="#c00000" stroke-width="1.5" stroke-dasharray="4 2"/>
<path d="M453 97L445.9 122.6L471.7 129.4" fill="none" stroke="#000" stroke-width="1.5" marker-start="url(#ah)" marker-end="url(#ah)"/>
<circle cx="461.8" cy="113.2" r="3" fill="#c00000"/>
<text x="478" y="119.5" font-size="15" font-weight="bold" fill="#000" text-anchor="start" >O</text>
<text transform="translate(429.1,110.2) rotate(11)" font-size="11.5" font-weight="bold" font-style="italic">l<tspan font-size="8.5" dy="2.6">y</tspan></text>
<text transform="translate(449.3,137.8) rotate(11)" font-size="11.5" font-weight="bold" font-style="italic">l<tspan font-size="8.5" dy="2.6">x</tspan></text>
<path d="M116.3 317L175.4 386.2L107.6 444.5" fill="none" stroke="#0070c0" stroke-width="1.5" stroke-dasharray="4.2 2"/>
<path d="M116.3 317L48.8 374.3L107.6 444.5" fill="none" stroke="#000" stroke-width="1.6" marker-start="url(#ahL)" marker-end="url(#ahL)"/>
<circle cx="110" cy="379" r="2.8" fill="#c00000"/>
<text x="102.5" y="399.4" font-size="14.5" font-weight="bold" fill="#000" text-anchor="start" >O</text>
<text transform="translate(63.7,335.1) rotate(68)" font-size="10.5" font-weight="bold" font-style="italic">l<tspan font-size="7.5" dy="2.8">y</tspan></text>
<text transform="translate(60.5,410.6) rotate(68)" font-size="10.5" font-weight="bold" font-style="italic">l<tspan font-size="7.5" dy="2.8">x</tspan></text>
<g transform="translate(267.8,184.7) scale(0.9051,0.4497) rotate(45)"><g clip-path="url(#dc1)"><rect x="-50" y="-50" width="100" height="100" fill="#4ba9e6"/><g filter="url(#sb2)"><circle cx="-30" cy="-30" r="16" fill="#49c6c0"/><circle cx="-29" cy="-29" r="9" fill="#6166e8"/><circle cx="-48" cy="-48" r="8" fill="#6166e8"/><ellipse cx="-41" cy="-21" rx="10.5" ry="6.5" transform="rotate(-45 -41 -21)" fill="#f6d63a"/><ellipse cx="-21" cy="-41" rx="10.5" ry="6.5" transform="rotate(-45 -21 -41)" fill="#f6d63a"/><circle cx="-45" cy="-6" r="6.5" fill="#6166e8"/><circle cx="-6" cy="-45" r="6.5" fill="#6166e8"/><circle cx="-14" cy="-9" r="6.5" fill="#6166e8"/><circle cx="-9" cy="-14" r="6.5" fill="#6166e8"/><circle cx="-30" cy="30" r="16" fill="#49c6c0"/><circle cx="-29" cy="29" r="9" fill="#6166e8"/><circle cx="-48" cy="48" r="8" fill="#6166e8"/><ellipse cx="-41" cy="21" rx="10.5" ry="6.5" transform="rotate(-45 -41 21)" fill="#f6d63a"/><ellipse cx="-21" cy="41" rx="10.5" ry="6.5" transform="rotate(-45 -21 41)" fill="#f6d63a"/><circle cx="-45" cy="6" r="6.5" fill="#6166e8"/><circle cx="-6" cy="45" r="6.5" fill="#6166e8"/><circle cx="-14" cy="9" r="6.5" fill="#6166e8"/><circle cx="-9" cy="14" r="6.5" fill="#6166e8"/><circle cx="30" cy="-30" r="16" fill="#49c6c0"/><circle cx="29" cy="-29" r="9" fill="#6166e8"/><circle cx="48" cy="-48" r="8" fill="#6166e8"/><ellipse cx="41" cy="-21" rx="10.5" ry="6.5" transform="rotate(-45 41 -21)" fill="#f6d63a"/><ellipse cx="21" cy="-41" rx="10.5" ry="6.5" transform="rotate(-45 21 -41)" fill="#f6d63a"/><circle cx="45" cy="-6" r="6.5" fill="#6166e8"/><circle cx="6" cy="-45" r="6.5" fill="#6166e8"/><circle cx="14" cy="-9" r="6.5" fill="#6166e8"/><circle cx="9" cy="-14" r="6.5" fill="#6166e8"/><circle cx="30" cy="30" r="16" fill="#49c6c0"/><circle cx="29" cy="29" r="9" fill="#6166e8"/><circle cx="48" cy="48" r="8" fill="#6166e8"/><ellipse cx="41" cy="21" rx="10.5" ry="6.5" transform="rotate(-45 41 21)" fill="#f6d63a"/><ellipse cx="21" cy="41" rx="10.5" ry="6.5" transform="rotate(-45 21 41)" fill="#f6d63a"/><circle cx="45" cy="6" r="6.5" fill="#6166e8"/><circle cx="6" cy="45" r="6.5" fill="#6166e8"/><circle cx="14" cy="9" r="6.5" fill="#6166e8"/><circle cx="9" cy="14" r="6.5" fill="#6166e8"/><circle cx="0" cy="0" r="7" fill="#49c6c0"/><circle cx="-4" cy="5" r="4" fill="#f6d63a"/></g></g></g>
<path d="M203.8 184.7L267.8 152.89999999999998L331.8 184.7L267.8 216.5Z" fill="none" stroke="#d9363e" stroke-width="0.8" stroke-dasharray="2.2 1.6"/>
<g transform="translate(267.8,119.8) scale(0.9051,0.4398) rotate(45)"><g clip-path="url(#dc2)"><rect x="-50" y="-50" width="100" height="100" fill="#f7e0d5"/><g filter="url(#sb15)"><path d="M29.3 0L0 29.3L-29.3 0L0 -29.3ZM29.3 0H50M-29.3 0H-50M0 29.3V50M0 -29.3V-50" fill="none" stroke="#eab9a3" stroke-width="4.2" stroke-linejoin="round"/><path d="M-50 -50L-26 -26" stroke="#f0cbb9" stroke-width="3"/><circle cx="-50" cy="-50" r="5" fill="#eab9a3"/><circle cx="-36" cy="-13" r="6" fill="#fbeee8"/><circle cx="-13" cy="-36" r="6" fill="#fbeee8"/><path d="M-50 50L-26 26" stroke="#f0cbb9" stroke-width="3"/><circle cx="-50" cy="50" r="5" fill="#eab9a3"/><circle cx="-36" cy="13" r="6" fill="#fbeee8"/><circle cx="-13" cy="36" r="6" fill="#fbeee8"/><path d="M50 -50L26 -26" stroke="#f0cbb9" stroke-width="3"/><circle cx="50" cy="-50" r="5" fill="#eab9a3"/><circle cx="36" cy="-13" r="6" fill="#fbeee8"/><circle cx="13" cy="-36" r="6" fill="#fbeee8"/><path d="M50 50L26 26" stroke="#f0cbb9" stroke-width="3"/><circle cx="50" cy="50" r="5" fill="#eab9a3"/><circle cx="36" cy="13" r="6" fill="#fbeee8"/><circle cx="13" cy="36" r="6" fill="#fbeee8"/><circle cx="0" cy="0" r="17" fill="#fbeee7"/><circle cx="0" cy="0" r="11.5" fill="#fff"/></g><circle cx="0" cy="0" r="14.5" fill="none" stroke="#f3d6c9" stroke-width="1.6" filter="url(#sb05)"/></g></g>
<path d="M203.8 119.8L267.8 88.69999999999999L331.8 119.8L267.8 150.9Z" fill="none" stroke="#d9363e" stroke-width="0.8" stroke-dasharray="2.2 1.6"/>
<line x1="268.4" y1="116.4" x2="268.6" y2="150.9" stroke="#8a8480" stroke-opacity="0.55" stroke-width="2.8"/>
<line x1="268.6" y1="150.4" x2="268.9" y2="180.8" stroke="#000" stroke-width="2.8" marker-end="url(#av)"/>
<g transform="translate(267.8,52) scale(0.9051,0.4441) rotate(45)"><g clip-path="url(#dc3)"><rect x="-50" y="-50" width="100" height="100" fill="#5c60ae"/><g filter="url(#sb1)"><circle cx="-50" cy="-50" r="23" fill="#59c8e8"/><circle cx="-50" cy="-50" r="19.5" fill="#e8e468"/><circle cx="-50" cy="-50" r="16" fill="#f4a868"/><circle cx="50" cy="-50" r="23" fill="#59c8e8"/><circle cx="50" cy="-50" r="19.5" fill="#e8e468"/><circle cx="50" cy="-50" r="16" fill="#f4a868"/><circle cx="-50" cy="50" r="23" fill="#59c8e8"/><circle cx="-50" cy="50" r="19.5" fill="#e8e468"/><circle cx="-50" cy="50" r="16" fill="#f4a868"/><circle cx="50" cy="50" r="23" fill="#59c8e8"/><circle cx="50" cy="50" r="19.5" fill="#e8e468"/><circle cx="50" cy="50" r="16" fill="#f4a868"/><rect x="-26" y="-26" width="52" height="52" rx="11.7" fill="#58bfe8"/><rect x="-23" y="-23" width="46" height="46" rx="10.3" fill="#7fe0b0"/><rect x="-20" y="-20" width="40" height="40" rx="9.0" fill="#ece35a"/><rect x="-16" y="-16" width="32" height="32" rx="7.2" fill="#f6a55a"/><rect x="-8.5" y="-8.5" width="17.0" height="17.0" rx="3.8" fill="#ee4a3c"/></g><path d="M30.4 38.8L25.1 44.4M-40.9 -3.8L-47.7 -2.6M-48.2 -29.6L-43.3 -23.7M27.1 -33.6L22.9 -30.4M7.2 -35.1L14.8 -35.1M-19.4 39.9L-20.2 46.8M-25.5 38.2L-30.0 44.7M35.9 -21.3L38.1 -16.5M-48.1 14.2L-45.3 19.3M28.2 -4.5L31.7 0.8M21.7 -41.8L16.8 -41.5M19.8 32.2L27.1 32.6M-32.9 40.7L-27.1 44.9M-33.8 21.1L-39.9 25.6M-37.1 -18.6L-39.7 -11.3M-14.6 37.0L-15.5 42.7M-19.8 -31.0L-14.7 -29.7M15.6 45.5L19.9 47.9M44.9 0.5L46.6 5.8M8.4 27.6L9.3 33.7M-41.6 -1.9L-46.2 0.7M23.2 38.9L20.3 45.6M-40.3 -7.8L-33.6 -4.5M44.6 -7.9L44.9 -0.8M-10.5 -36.9L-7.5 -29.5M43.2 9.0L43.2 14.9M-35.7 -23.8L-41.6 -19.0M-17.9 38.9L-20.9 44.8M-48.4 2.0L-43.5 6.9M-1.8 26.5L-5.1 33.1M20.7 27.5L24.1 34.2M38.7 17.4L30.9 18.0M-28.3 31.0L-34.5 32.3M24.2 -33.0L19.1 -28.7M12.1 -45.8L12.5 -40.3M-19.2 -31.3L-15.2 -28.5M-27.7 37.9L-21.6 37.9M-11.0 -46.0L-12.7 -41.2M10.2 41.4L5.0 44.7M28.4 11.0L30.5 15.8M-35.9 3.7L-37.8 8.6M11.0 33.9L13.3 39.6M48.2 -11.8L40.6 -10.8M44.4 -3.2L46.0 2.5M43.6 -3.3L47.5 1.7M-36.0 8.6L-35.0 14.3M23.2 30.6L29.7 30.9M-19.1 39.1L-23.4 42.7M-19.0 -32.6L-24.7 -32.4M25.0 -37.9L20.8 -33.9M-44.1 -27.1L-43.0 -19.4M32.8 4.1L40.1 4.5M-2.8 35.9L-0.6 41.5M30.9 -31.5L35.3 -25.5M-30.5 6.7L-34.7 9.5M-22.6 27.9L-28.1 32.1M-40.6 20.7L-48.6 21.2M21.3 -43.7L16.5 -41.1M15.3 40.5L12.1 44.6M-22.5 37.8L-16.5 40.8M-7.2 -34.1L-9.0 -29.6" stroke="#fff" stroke-width="1.6" stroke-opacity="0.92" stroke-linecap="round"/></g></g>
<path d="M203.8 52L267.8 20.6L331.8 52L267.8 83.4Z" fill="none" stroke="#d9363e" stroke-width="0.8" stroke-dasharray="2.2 1.6"/>
<line x1="267.3" y1="50.2" x2="267.9" y2="83.4" stroke="#20182a" stroke-opacity="0.8" stroke-width="2.8"/>
<line x1="267.9" y1="82.9" x2="268.4" y2="116.4" stroke="#000" stroke-width="2.8"/>
<circle cx="267.3" cy="50.2" r="3.5" fill="#c4000c" stroke="#8a0008" stroke-width="0.4"/>
<text x="274.1" y="52.7" font-size="15" font-weight="bold" fill="#000" text-anchor="start" >O</text>
<circle cx="268.4" cy="116.4" r="3.5" fill="#c4000c" stroke="#8a0008" stroke-width="0.4"/>
<text x="275.2" y="120.60000000000001" font-size="15" font-weight="bold" fill="#000" text-anchor="start" >O</text>
<circle cx="268.9" cy="184.3" r="3.5" fill="#c4000c" stroke="#8a0008" stroke-width="0.4"/>
<text x="275.7" y="188.5" font-size="15" font-weight="bold" fill="#000" text-anchor="start" >O</text>
<text transform="translate(216.3,41.5) rotate(-29.3)" font-size="10" font-weight="bold" font-style="italic">Heat flux</text>
<text transform="translate(203.0,114.1) rotate(-29.3)" font-size="10" font-weight="bold" font-style="italic">Conductivity</text>
<text transform="translate(209.9,177.6) rotate(-29.3)" font-size="10" font-weight="bold" font-style="italic">Vorticity</text>
<text x="307.6" y="38.5" font-size="15.5" font-weight="bold" fill="#000" text-anchor="start" >(i)</text>
<text x="307.6" y="103.6" font-size="15.5" font-weight="bold" fill="#000" text-anchor="start" >(ii)</text>
<text x="307.6" y="168" font-size="15.5" font-weight="bold" fill="#000" text-anchor="start" >(iii)</text>
<g transform="translate(614.8,184.2) scale(0.9051,0.4568) rotate(45)"><g clip-path="url(#dc4)"><rect x="-50" y="-50" width="100" height="100" fill="#4ab2dc"/><g filter="url(#sb15)"><ellipse cx="-22" cy="-6" rx="8.0" ry="6.3" transform="rotate(-45 -22 -6)" fill="#f6d63a"/><ellipse cx="-7" cy="-24" rx="6.9" ry="5.4" transform="rotate(-45 -7 -24)" fill="#f6d63a"/><ellipse cx="-36" cy="-30" rx="7.5" ry="5.9" transform="rotate(-45 -36 -30)" fill="#f6d63a"/><ellipse cx="-46" cy="-12" rx="5.8" ry="4.5" transform="rotate(-45 -46 -12)" fill="#f6d63a"/><ellipse cx="-14" cy="-46" rx="5.8" ry="4.5" transform="rotate(-45 -14 -46)" fill="#f6d63a"/><ellipse cx="-30" cy="-48" rx="5.2" ry="4.0" transform="rotate(-45 -30 -48)" fill="#f6d63a"/><ellipse cx="-49" cy="-40" rx="5.2" ry="4.0" transform="rotate(-45 -49 -40)" fill="#f6d63a"/><circle cx="-10" cy="-10" r="4" fill="#6878ea"/><circle cx="-27" cy="-18" r="4" fill="#6878ea"/><circle cx="-18" cy="-33" r="4" fill="#6878ea"/><circle cx="-41" cy="-22" r="3.5" fill="#6878ea"/><circle cx="-22" cy="-41" r="4" fill="#6878ea"/><circle cx="-40" cy="-44" r="4" fill="#6878ea"/><circle cx="-4" cy="-36" r="3" fill="#6878ea"/><circle cx="-36" cy="-2" r="3" fill="#6878ea"/><ellipse cx="-22" cy="6" rx="8.0" ry="6.3" transform="rotate(-45 -22 6)" fill="#f6d63a"/><ellipse cx="-7" cy="24" rx="6.9" ry="5.4" transform="rotate(-45 -7 24)" fill="#f6d63a"/><ellipse cx="-36" cy="30" rx="7.5" ry="5.9" transform="rotate(-45 -36 30)" fill="#f6d63a"/><ellipse cx="-46" cy="12" rx="5.8" ry="4.5" transform="rotate(-45 -46 12)" fill="#f6d63a"/><ellipse cx="-14" cy="46" rx="5.8" ry="4.5" transform="rotate(-45 -14 46)" fill="#f6d63a"/><ellipse cx="-30" cy="48" rx="5.2" ry="4.0" transform="rotate(-45 -30 48)" fill="#f6d63a"/><ellipse cx="-49" cy="40" rx="5.2" ry="4.0" transform="rotate(-45 -49 40)" fill="#f6d63a"/><circle cx="-10" cy="10" r="4" fill="#6878ea"/><circle cx="-27" cy="18" r="4" fill="#6878ea"/><circle cx="-18" cy="33" r="4" fill="#6878ea"/><circle cx="-41" cy="22" r="3.5" fill="#6878ea"/><circle cx="-22" cy="41" r="4" fill="#6878ea"/><circle cx="-40" cy="44" r="4" fill="#6878ea"/><circle cx="-4" cy="36" r="3" fill="#6878ea"/><circle cx="-36" cy="2" r="3" fill="#6878ea"/><ellipse cx="22" cy="-6" rx="8.0" ry="6.3" transform="rotate(-45 22 -6)" fill="#f6d63a"/><ellipse cx="7" cy="-24" rx="6.9" ry="5.4" transform="rotate(-45 7 -24)" fill="#f6d63a"/><ellipse cx="36" cy="-30" rx="7.5" ry="5.9" transform="rotate(-45 36 -30)" fill="#f6d63a"/><ellipse cx="46" cy="-12" rx="5.8" ry="4.5" transform="rotate(-45 46 -12)" fill="#f6d63a"/><ellipse cx="14" cy="-46" rx="5.8" ry="4.5" transform="rotate(-45 14 -46)" fill="#f6d63a"/><ellipse cx="30" cy="-48" rx="5.2" ry="4.0" transform="rotate(-45 30 -48)" fill="#f6d63a"/><ellipse cx="49" cy="-40" rx="5.2" ry="4.0" transform="rotate(-45 49 -40)" fill="#f6d63a"/><circle cx="10" cy="-10" r="4" fill="#6878ea"/><circle cx="27" cy="-18" r="4" fill="#6878ea"/><circle cx="18" cy="-33" r="4" fill="#6878ea"/><circle cx="41" cy="-22" r="3.5" fill="#6878ea"/><circle cx="22" cy="-41" r="4" fill="#6878ea"/><circle cx="40" cy="-44" r="4" fill="#6878ea"/><circle cx="4" cy="-36" r="3" fill="#6878ea"/><circle cx="36" cy="-2" r="3" fill="#6878ea"/><ellipse cx="22" cy="6" rx="8.0" ry="6.3" transform="rotate(-45 22 6)" fill="#f6d63a"/><ellipse cx="7" cy="24" rx="6.9" ry="5.4" transform="rotate(-45 7 24)" fill="#f6d63a"/><ellipse cx="36" cy="30" rx="7.5" ry="5.9" transform="rotate(-45 36 30)" fill="#f6d63a"/><ellipse cx="46" cy="12" rx="5.8" ry="4.5" transform="rotate(-45 46 12)" fill="#f6d63a"/><ellipse cx="14" cy="46" rx="5.8" ry="4.5" transform="rotate(-45 14 46)" fill="#f6d63a"/><ellipse cx="30" cy="48" rx="5.2" ry="4.0" transform="rotate(-45 30 48)" fill="#f6d63a"/><ellipse cx="49" cy="40" rx="5.2" ry="4.0" transform="rotate(-45 49 40)" fill="#f6d63a"/><circle cx="10" cy="10" r="4" fill="#6878ea"/><circle cx="27" cy="18" r="4" fill="#6878ea"/><circle cx="18" cy="33" r="4" fill="#6878ea"/><circle cx="41" cy="22" r="3.5" fill="#6878ea"/><circle cx="22" cy="41" r="4" fill="#6878ea"/><circle cx="40" cy="44" r="4" fill="#6878ea"/><circle cx="4" cy="36" r="3" fill="#6878ea"/><circle cx="36" cy="2" r="3" fill="#6878ea"/></g></g></g>
<path d="M550.8 184.2L614.8 151.89999999999998L678.8 184.2L614.8 216.5Z" fill="none" stroke="#d9363e" stroke-width="0.8" stroke-dasharray="2.2 1.6"/>
<g transform="translate(614.8,114.5) scale(0.9051,0.4554) rotate(45)"><g clip-path="url(#dc5)"><rect x="-50" y="-50" width="100" height="100" fill="#f5d9cc"/><g filter="url(#sb2)"><rect x="-55.5" y="-55.5" width="11" height="11" rx="3" fill="none" stroke="#e9b7a2" stroke-width="3.2"/><rect x="-55.5" y="-30.5" width="11" height="11" rx="3" fill="none" stroke="#e9b7a2" stroke-width="3.2"/><rect x="-55.5" y="-5.5" width="11" height="11" rx="3" fill="none" stroke="#e9b7a2" stroke-width="3.2"/><rect x="-55.5" y="19.5" width="11" height="11" rx="3" fill="none" stroke="#e9b7a2" stroke-width="3.2"/><rect x="-55.5" y="44.5" width="11" height="11" rx="3" fill="none" stroke="#e9b7a2" stroke-width="3.2"/><rect x="-30.5" y="-55.5" width="11" height="11" rx="3" fill="none" stroke="#e9b7a2" stroke-width="3.2"/><rect x="-30.5" y="-30.5" width="11" height="11" rx="3" fill="none" stroke="#e9b7a2" stroke-width="3.2"/><rect x="-30.5" y="-5.5" width="11" height="11" rx="3" fill="none" stroke="#e9b7a2" stroke-width="3.2"/><rect x="-30.5" y="19.5" width="11" height="11" rx="3" fill="none" stroke="#e9b7a2" stroke-width="3.2"/><rect x="-30.5" y="44.5" width="11" height="11" rx="3" fill="none" stroke="#e9b7a2" stroke-width="3.2"/><rect x="-5.5" y="-55.5" width="11" height="11" rx="3" fill="none" stroke="#e9b7a2" stroke-width="3.2"/><rect x="-5.5" y="-30.5" width="11" height="11" rx="3" fill="none" stroke="#e9b7a2" stroke-width="3.2"/><rect x="-5.5" y="19.5" width="11" height="11" rx="3" fill="none" stroke="#e9b7a2" stroke-width="3.2"/><rect x="-5.5" y="44.5" width="11" height="11" rx="3" fill="none" stroke="#e9b7a2" stroke-width="3.2"/><rect x="19.5" y="-55.5" width="11" height="11" rx="3" fill="none" stroke="#e9b7a2" stroke-width="3.2"/><rect x="19.5" y="-30.5" width="11" height="11" rx="3" fill="none" stroke="#e9b7a2" stroke-width="3.2"/><rect x="19.5" y="-5.5" width="11" height="11" rx="3" fill="none" stroke="#e9b7a2" stroke-width="3.2"/><rect x="19.5" y="19.5" width="11" height="11" rx="3" fill="none" stroke="#e9b7a2" stroke-width="3.2"/><rect x="19.5" y="44.5" width="11" height="11" rx="3" fill="none" stroke="#e9b7a2" stroke-width="3.2"/><rect x="44.5" y="-55.5" width="11" height="11" rx="3" fill="none" stroke="#e9b7a2" stroke-width="3.2"/><rect x="44.5" y="-30.5" width="11" height="11" rx="3" fill="none" stroke="#e9b7a2" stroke-width="3.2"/><rect x="44.5" y="-5.5" width="11" height="11" rx="3" fill="none" stroke="#e9b7a2" stroke-width="3.2"/><rect x="44.5" y="19.5" width="11" height="11" rx="3" fill="none" stroke="#e9b7a2" stroke-width="3.2"/><rect x="44.5" y="44.5" width="11" height="11" rx="3" fill="none" stroke="#e9b7a2" stroke-width="3.2"/><circle cx="0" cy="0" r="6" fill="#fff"/></g></g></g>
<path d="M550.8 114.5L614.8 82.3L678.8 114.5L614.8 146.7Z" fill="none" stroke="#d9363e" stroke-width="0.8" stroke-dasharray="2.2 1.6"/>
<line x1="617" y1="113.5" x2="617.6" y2="146.7" stroke="#8a8480" stroke-opacity="0.55" stroke-width="2.8"/>
<line x1="617.6" y1="146.2" x2="618.2" y2="177.8" stroke="#000" stroke-width="2.8" marker-end="url(#av)"/>
<g transform="translate(614.8,47.7) scale(0.9051,0.4412) rotate(45)"><g clip-path="url(#dc6)"><rect x="-50" y="-50" width="100" height="100" fill="#cfe9e2"/><g filter="url(#sb1)"><rect x="-35" y="-35" width="70" height="70" rx="15" fill="none" stroke="#5a64c6" stroke-width="10"/><path d="M-34 0H34M0 -34V34" stroke="#5a64c6" stroke-width="9"/><circle cx="0" cy="0" r="10" fill="#5a64c6"/><circle cx="-49" cy="-49" r="11" fill="#5a64c6"/><circle cx="-49" cy="49" r="11" fill="#5a64c6"/><circle cx="49" cy="-49" r="11" fill="#5a64c6"/><circle cx="49" cy="49" r="11" fill="#5a64c6"/><circle cx="52" cy="0" r="9" fill="#5a64c6"/><circle cx="-52" cy="0" r="9" fill="#5a64c6"/><circle cx="0" cy="52" r="9" fill="#5a64c6"/><circle cx="0" cy="-52" r="9" fill="#5a64c6"/><circle cx="19" cy="19" r="9.2" fill="#e4e08c"/><circle cx="-19" cy="19" r="9.2" fill="#e4e08c"/><circle cx="19" cy="-19" r="9.2" fill="#e4e08c"/><circle cx="-19" cy="-19" r="9.2" fill="#e4e08c"/><circle cx="46" cy="25" r="9.2" fill="#e4e08c"/><circle cx="25" cy="46" r="9.2" fill="#e4e08c"/><circle cx="-46" cy="25" r="9.2" fill="#e4e08c"/><circle cx="-25" cy="46" r="9.2" fill="#e4e08c"/><circle cx="46" cy="-25" r="9.2" fill="#e4e08c"/><circle cx="25" cy="-46" r="9.2" fill="#e4e08c"/><circle cx="-46" cy="-25" r="9.2" fill="#e4e08c"/><circle cx="-25" cy="-46" r="9.2" fill="#e4e08c"/><circle cx="19" cy="19" r="6.6" fill="#e0b0b0"/><circle cx="19" cy="19" r="6.4" fill="url(#mdots)"/><circle cx="-19" cy="19" r="6.6" fill="#e0b0b0"/><circle cx="-19" cy="19" r="6.4" fill="url(#mdots)"/><circle cx="19" cy="-19" r="6.6" fill="#e0b0b0"/><circle cx="19" cy="-19" r="6.4" fill="url(#mdots)"/><circle cx="-19" cy="-19" r="6.6" fill="#e0b0b0"/><circle cx="-19" cy="-19" r="6.4" fill="url(#mdots)"/><circle cx="46" cy="25" r="6.6" fill="#e0b0b0"/><circle cx="46" cy="25" r="6.4" fill="url(#mdots)"/><circle cx="25" cy="46" r="6.6" fill="#e0b0b0"/><circle cx="25" cy="46" r="6.4" fill="url(#mdots)"/><circle cx="-46" cy="25" r="6.6" fill="#e0b0b0"/><circle cx="-46" cy="25" r="6.4" fill="url(#mdots)"/><circle cx="-25" cy="46" r="6.6" fill="#e0b0b0"/><circle cx="-25" cy="46" r="6.4" fill="url(#mdots)"/><circle cx="46" cy="-25" r="6.6" fill="#e0b0b0"/><circle cx="46" cy="-25" r="6.4" fill="url(#mdots)"/><circle cx="25" cy="-46" r="6.6" fill="#e0b0b0"/><circle cx="25" cy="-46" r="6.4" fill="url(#mdots)"/><circle cx="-46" cy="-25" r="6.6" fill="#e0b0b0"/><circle cx="-46" cy="-25" r="6.4" fill="url(#mdots)"/><circle cx="-25" cy="-46" r="6.6" fill="#e0b0b0"/><circle cx="-25" cy="-46" r="6.4" fill="url(#mdots)"/></g><rect x="-50" y="-50" width="100" height="100" fill="url(#wdots)"/><circle cx="0" cy="0" r="6.5" fill="none" stroke="#fff" stroke-opacity="0.8" stroke-width="1.6"/></g></g>
<path d="M550.8 47.7L614.8 16.500000000000004L678.8 47.7L614.8 78.9Z" fill="none" stroke="#d9363e" stroke-width="0.8" stroke-dasharray="2.2 1.6"/>
<line x1="616" y1="47.1" x2="616.5" y2="78.9" stroke="#20182a" stroke-opacity="0.35" stroke-width="2.8"/>
<line x1="616.5" y1="78.4" x2="617" y2="113.5" stroke="#000" stroke-width="2.8"/>
<circle cx="616" cy="47.1" r="3.5" fill="#c4000c" stroke="#8a0008" stroke-width="0.4"/>
<text x="622.8" y="49.6" font-size="15" font-weight="bold" fill="#000" text-anchor="start" >O</text>
<circle cx="617" cy="113.5" r="3.5" fill="#c4000c" stroke="#8a0008" stroke-width="0.4"/>
<text x="623.8" y="117.7" font-size="15" font-weight="bold" fill="#000" text-anchor="start" >O</text>
<circle cx="618.2" cy="181.3" r="3.5" fill="#c4000c" stroke="#8a0008" stroke-width="0.4"/>
<text x="625.0" y="185.5" font-size="15" font-weight="bold" fill="#000" text-anchor="start" >O</text>
<text transform="translate(561.5,38.1) rotate(-29.3)" font-size="10" font-weight="bold" font-style="italic">Heat flux</text>
<text transform="translate(548.5,111.5) rotate(-29.3)" font-size="10" font-weight="bold" font-style="italic">Conductivity</text>
<text transform="translate(555.6,173.8) rotate(-29.3)" font-size="10" font-weight="bold" font-style="italic">Vorticity</text>
<text x="656.2" y="36.1" font-size="15.5" font-weight="bold" fill="#000" text-anchor="start" >(i)</text>
<text x="656.2" y="101" font-size="15.5" font-weight="bold" fill="#000" text-anchor="start" >(ii)</text>
<text x="656.2" y="166.9" font-size="15.5" font-weight="bold" fill="#000" text-anchor="start" >(iii)</text>
<g transform="translate(278.5,445.2) scale(0.9108,0.4695) rotate(45)"><g clip-path="url(#dc7)"><rect x="-50" y="-50" width="100" height="100" fill="#49b4d4"/><g filter="url(#sb08)"><circle cx="-45.9" cy="-40.7" r="2.1" fill="#6166e8"/><circle cx="-45.0" cy="-36.8" r="1.7" fill="#6166e8"/><circle cx="-45.1" cy="33.0" r="1.9" fill="#6166e8"/><circle cx="-45.2" cy="44.5" r="2.2" fill="#6166e8"/><circle cx="-44.8" cy="52.1" r="1.8" fill="#6166e8"/><circle cx="-39.0" cy="-32.7" r="1.6" fill="#6166e8"/><circle cx="-35.3" cy="-28.1" r="1.9" fill="#6166e8"/><circle cx="-35.4" cy="-19.5" r="1.6" fill="#6166e8"/><circle cx="-34.3" cy="37.2" r="1.6" fill="#6166e8"/><circle cx="-25.7" cy="-36.0" r="2.0" fill="#6166e8"/><circle cx="-25.5" cy="-18.9" r="2.2" fill="#6166e8"/><circle cx="-26.6" cy="22.1" r="1.7" fill="#6166e8"/><circle cx="-26.5" cy="26.0" r="2.3" fill="#6166e8"/><circle cx="-27.2" cy="38.9" r="1.8" fill="#6166e8"/><circle cx="-27.0" cy="44.8" r="2.4" fill="#6166e8"/><circle cx="-22.5" cy="-34.1" r="2.1" fill="#6166e8"/><circle cx="-17.3" cy="-20.8" r="1.7" fill="#6166e8"/><circle cx="-20.4" cy="-13.7" r="2.1" fill="#6166e8"/><circle cx="-18.3" cy="-4.8" r="2.1" fill="#6166e8"/><circle cx="-20.1" cy="13.1" r="2.0" fill="#6166e8"/><circle cx="-22.6" cy="30.2" r="1.6" fill="#6166e8"/><circle cx="-19.6" cy="42.3" r="2.3" fill="#6166e8"/><circle cx="-9.1" cy="-44.0" r="2.0" fill="#6166e8"/><circle cx="-13.2" cy="-28.7" r="2.1" fill="#6166e8"/><circle cx="-11.6" cy="11.5" r="1.7" fill="#6166e8"/><circle cx="-11.7" cy="22.2" r="1.8" fill="#6166e8"/><circle cx="-13.3" cy="37.3" r="1.9" fill="#6166e8"/><circle cx="-2.1" cy="-36.0" r="1.9" fill="#6166e8"/><circle cx="-2.8" cy="-4.0" r="1.7" fill="#6166e8"/><circle cx="-6.2" cy="11.1" r="1.8" fill="#6166e8"/><circle cx="-5.3" cy="17.5" r="1.9" fill="#6166e8"/><circle cx="-4.9" cy="28.5" r="1.6" fill="#6166e8"/><circle cx="-5.8" cy="35.2" r="2.4" fill="#6166e8"/><circle cx="5.6" cy="3.3" r="2.1" fill="#6166e8"/><circle cx="12.3" cy="12.2" r="1.9" fill="#6166e8"/><circle cx="11.6" cy="19.6" r="2.2" fill="#6166e8"/><circle cx="11.2" cy="44.9" r="1.8" fill="#6166e8"/><circle cx="18.8" cy="-35.3" r="1.8" fill="#6166e8"/><circle cx="22.0" cy="-28.7" r="1.9" fill="#6166e8"/><circle cx="19.4" cy="-13.1" r="1.7" fill="#6166e8"/><circle cx="17.7" cy="-2.4" r="1.7" fill="#6166e8"/><circle cx="18.9" cy="6.6" r="2.1" fill="#6166e8"/><circle cx="19.0" cy="11.6" r="1.9" fill="#6166e8"/><circle cx="19.8" cy="29.5" r="1.6" fill="#6166e8"/><circle cx="21.0" cy="34.7" r="1.9" fill="#6166e8"/><circle cx="18.8" cy="44.6" r="1.6" fill="#6166e8"/><circle cx="22.4" cy="50.8" r="2.0" fill="#6166e8"/><circle cx="29.6" cy="-29.7" r="1.5" fill="#6166e8"/><circle cx="27.9" cy="-13.1" r="1.8" fill="#6166e8"/><circle cx="26.7" cy="-4.8" r="2.0" fill="#6166e8"/><circle cx="29.6" cy="9.5" r="2.1" fill="#6166e8"/><circle cx="27.4" cy="26.5" r="1.7" fill="#6166e8"/><circle cx="27.8" cy="37.8" r="2.1" fill="#6166e8"/><circle cx="25.2" cy="45.9" r="2.0" fill="#6166e8"/><circle cx="27.9" cy="49.0" r="1.8" fill="#6166e8"/><circle cx="34.9" cy="-42.8" r="2.0" fill="#6166e8"/><circle cx="36.5" cy="-35.1" r="1.7" fill="#6166e8"/><circle cx="34.4" cy="-18.8" r="2.1" fill="#6166e8"/><circle cx="35.6" cy="3.3" r="1.6" fill="#6166e8"/><circle cx="37.6" cy="22.6" r="2.4" fill="#6166e8"/><circle cx="36.3" cy="26.4" r="2.0" fill="#6166e8"/><circle cx="36.2" cy="44.2" r="1.5" fill="#6166e8"/><circle cx="44.2" cy="-43.1" r="2.0" fill="#6166e8"/><circle cx="43.2" cy="-21.3" r="1.6" fill="#6166e8"/><circle cx="43.5" cy="-10.3" r="1.8" fill="#6166e8"/><circle cx="44.1" cy="-3.0" r="2.3" fill="#6166e8"/><circle cx="44.2" cy="12.2" r="2.2" fill="#6166e8"/><circle cx="42.7" cy="27.1" r="1.7" fill="#6166e8"/><circle cx="43.3" cy="34.8" r="2.2" fill="#6166e8"/><circle cx="42.3" cy="43.8" r="2.1" fill="#6166e8"/><circle cx="43.4" cy="52.0" r="2.1" fill="#6166e8"/><circle cx="52.6" cy="-38.5" r="2.0" fill="#6166e8"/><circle cx="51.7" cy="-18.1" r="2.2" fill="#6166e8"/><circle cx="49.8" cy="19.0" r="2.3" fill="#6166e8"/><circle cx="51.3" cy="29.5" r="1.8" fill="#6166e8"/><circle cx="53.2" cy="36.8" r="1.9" fill="#6166e8"/><circle cx="51.5" cy="49.4" r="2.2" fill="#6166e8"/><ellipse cx="-49.4" cy="-45.7" rx="3.6" ry="2.1" fill="#f6d63a"/><ellipse cx="-48.2" cy="-40.2" rx="2.8" ry="2.8" fill="#f6d63a"/><ellipse cx="-48.5" cy="-30.0" rx="2.7" ry="2.3" fill="#f6d63a"/><ellipse cx="-48.6" cy="-23.2" rx="3.5" ry="2.5" fill="#f6d63a"/><ellipse cx="-49.8" cy="1.3" rx="3.5" ry="2.7" fill="#f6d63a"/><ellipse cx="-49.5" cy="6.3" rx="3.3" ry="2.1" fill="#f6d63a"/><ellipse cx="-49.4" cy="14.7" rx="3.0" ry="2.3" fill="#f6d63a"/><ellipse cx="-46.0" cy="22.4" rx="2.7" ry="2.7" fill="#f6d63a"/><ellipse cx="-49.0" cy="29.6" rx="3.0" ry="2.2" fill="#f6d63a"/><ellipse cx="-48.4" cy="40.4" rx="2.6" ry="2.1" fill="#f6d63a"/><ellipse cx="-39.6" cy="-46.8" rx="3.9" ry="2.0" fill="#f6d63a"/><ellipse cx="-42.3" cy="-37.7" rx="4.0" ry="2.6" fill="#f6d63a"/><ellipse cx="-39.5" cy="-32.0" rx="2.7" ry="2.1" fill="#f6d63a"/><ellipse cx="-38.9" cy="-22.9" rx="3.1" ry="2.4" fill="#f6d63a"/><ellipse cx="-38.9" cy="-15.0" rx="2.5" ry="2.4" fill="#f6d63a"/><ellipse cx="-38.7" cy="-8.0" rx="2.8" ry="2.2" fill="#f6d63a"/><ellipse cx="-41.4" cy="7.0" rx="4.0" ry="2.4" fill="#f6d63a"/><ellipse cx="-39.4" cy="18.3" rx="2.9" ry="2.8" fill="#f6d63a"/><ellipse cx="-38.3" cy="23.1" rx="3.4" ry="2.8" fill="#f6d63a"/><ellipse cx="-38.4" cy="32.5" rx="3.1" ry="2.5" fill="#f6d63a"/><ellipse cx="-38.8" cy="38.9" rx="2.7" ry="2.8" fill="#f6d63a"/><ellipse cx="-30.5" cy="-46.8" rx="3.7" ry="2.6" fill="#f6d63a"/><ellipse cx="-30.5" cy="-40.6" rx="3.7" ry="3.0" fill="#f6d63a"/><ellipse cx="-31.1" cy="-34.1" rx="3.8" ry="2.9" fill="#f6d63a"/><ellipse cx="-30.2" cy="-23.2" rx="2.6" ry="2.9" fill="#f6d63a"/><ellipse cx="-30.4" cy="-14.9" rx="3.0" ry="2.3" fill="#f6d63a"/><ellipse cx="-33.9" cy="-6.9" rx="2.7" ry="2.3" fill="#f6d63a"/><ellipse cx="-34.0" cy="-1.4" rx="2.8" ry="2.7" fill="#f6d63a"/><ellipse cx="-30.8" cy="9.6" rx="3.0" ry="2.9" fill="#f6d63a"/><ellipse cx="-30.3" cy="40.1" rx="3.5" ry="2.5" fill="#f6d63a"/><ellipse cx="-31.8" cy="50.2" rx="2.8" ry="2.5" fill="#f6d63a"/><ellipse cx="-25.9" cy="-48.5" rx="3.1" ry="2.9" fill="#f6d63a"/><ellipse cx="-25.8" cy="-39.1" rx="2.8" ry="2.6" fill="#f6d63a"/><ellipse cx="-24.7" cy="-16.8" rx="3.7" ry="2.4" fill="#f6d63a"/><ellipse cx="-22.0" cy="-8.9" rx="2.8" ry="2.4" fill="#f6d63a"/><ellipse cx="-22.6" cy="1.4" rx="3.4" ry="2.3" fill="#f6d63a"/><ellipse cx="-24.3" cy="8.6" rx="3.5" ry="2.3" fill="#f6d63a"/><ellipse cx="-24.2" cy="15.9" rx="3.3" ry="2.7" fill="#f6d63a"/><ellipse cx="-26.1" cy="25.5" rx="2.8" ry="2.6" fill="#f6d63a"/><ellipse cx="-26.3" cy="33.1" rx="3.0" ry="3.0" fill="#f6d63a"/><ellipse cx="-26.5" cy="50.4" rx="3.3" ry="2.5" fill="#f6d63a"/><ellipse cx="-14.0" cy="-48.4" rx="2.7" ry="2.7" fill="#f6d63a"/><ellipse cx="-15.2" cy="-41.2" rx="2.8" ry="2.0" fill="#f6d63a"/><ellipse cx="-17.4" cy="-32.5" rx="2.9" ry="2.5" fill="#f6d63a"/><ellipse cx="-16.0" cy="-14.9" rx="3.5" ry="2.1" fill="#f6d63a"/><ellipse cx="-16.2" cy="-1.4" rx="3.4" ry="2.2" fill="#f6d63a"/><ellipse cx="-15.5" cy="6.5" rx="3.3" ry="2.3" fill="#f6d63a"/><ellipse cx="-14.2" cy="24.8" rx="3.4" ry="2.5" fill="#f6d63a"/><ellipse cx="-15.6" cy="40.6" rx="4.0" ry="2.3" fill="#f6d63a"/><ellipse cx="-18.1" cy="47.2" rx="3.0" ry="2.5" fill="#f6d63a"/><ellipse cx="-6.1" cy="-39.8" rx="3.5" ry="2.5" fill="#f6d63a"/><ellipse cx="-6.5" cy="-33.7" rx="3.9" ry="2.5" fill="#f6d63a"/><ellipse cx="-7.7" cy="-21.7" rx="3.2" ry="2.2" fill="#f6d63a"/><ellipse cx="-8.7" cy="-15.9" rx="3.4" ry="2.3" fill="#f6d63a"/><ellipse cx="-7.1" cy="-8.3" rx="2.8" ry="2.5" fill="#f6d63a"/><ellipse cx="-10.0" cy="-1.9" rx="3.2" ry="2.6" fill="#f6d63a"/><ellipse cx="-10.4" cy="7.2" rx="3.3" ry="2.6" fill="#f6d63a"/><ellipse cx="-10.0" cy="14.5" rx="3.4" ry="2.1" fill="#f6d63a"/><ellipse cx="-8.8" cy="24.1" rx="3.4" ry="2.8" fill="#f6d63a"/><ellipse cx="-10.1" cy="30.4" rx="2.9" ry="2.6" fill="#f6d63a"/><ellipse cx="0.5" cy="-46.0" rx="3.8" ry="2.2" fill="#f6d63a"/><ellipse cx="-0.6" cy="-40.3" rx="2.6" ry="2.4" fill="#f6d63a"/><ellipse cx="0.6" cy="-23.2" rx="3.6" ry="3.0" fill="#f6d63a"/><ellipse cx="0.8" cy="-0.7" rx="4.0" ry="2.9" fill="#f6d63a"/><ellipse cx="-0.4" cy="6.5" rx="3.1" ry="2.1" fill="#f6d63a"/><ellipse cx="1.9" cy="16.1" rx="2.7" ry="2.6" fill="#f6d63a"/><ellipse cx="0.6" cy="23.0" rx="2.9" ry="2.8" fill="#f6d63a"/><ellipse cx="1.1" cy="41.3" rx="2.9" ry="2.7" fill="#f6d63a"/><ellipse cx="-1.0" cy="50.0" rx="3.2" ry="3.0" fill="#f6d63a"/><ellipse cx="9.7" cy="-23.0" rx="3.4" ry="2.1" fill="#f6d63a"/><ellipse cx="6.6" cy="-16.6" rx="2.8" ry="2.5" fill="#f6d63a"/><ellipse cx="8.4" cy="-6.2" rx="3.6" ry="2.1" fill="#f6d63a"/><ellipse cx="8.0" cy="-0.6" rx="3.9" ry="2.8" fill="#f6d63a"/><ellipse cx="8.3" cy="7.4" rx="2.9" ry="2.3" fill="#f6d63a"/><ellipse cx="6.8" cy="15.9" rx="3.4" ry="2.9" fill="#f6d63a"/><ellipse cx="9.3" cy="22.5" rx="3.5" ry="2.4" fill="#f6d63a"/><ellipse cx="6.1" cy="30.8" rx="3.5" ry="2.1" fill="#f6d63a"/><ellipse cx="6.8" cy="41.8" rx="3.4" ry="2.8" fill="#f6d63a"/><ellipse cx="16.7" cy="-49.7" rx="2.5" ry="2.4" fill="#f6d63a"/><ellipse cx="15.3" cy="-39.1" rx="3.9" ry="2.4" fill="#f6d63a"/><ellipse cx="17.2" cy="-32.5" rx="2.9" ry="2.8" fill="#f6d63a"/><ellipse cx="17.9" cy="-23.2" rx="2.7" ry="2.9" fill="#f6d63a"/><ellipse cx="13.8" cy="-5.9" rx="3.1" ry="2.9" fill="#f6d63a"/><ellipse cx="15.1" cy="1.7" rx="3.3" ry="2.3" fill="#f6d63a"/><ellipse cx="15.1" cy="7.6" rx="3.0" ry="2.5" fill="#f6d63a"/><ellipse cx="15.4" cy="15.6" rx="3.2" ry="2.7" fill="#f6d63a"/><ellipse cx="16.4" cy="25.5" rx="2.5" ry="2.6" fill="#f6d63a"/><ellipse cx="16.3" cy="31.1" rx="3.8" ry="2.4" fill="#f6d63a"/><ellipse cx="15.0" cy="41.1" rx="3.6" ry="2.2" fill="#f6d63a"/><ellipse cx="24.9" cy="-49.0" rx="3.9" ry="2.4" fill="#f6d63a"/><ellipse cx="23.8" cy="-38.3" rx="3.2" ry="2.4" fill="#f6d63a"/><ellipse cx="24.4" cy="-22.1" rx="2.7" ry="2.7" fill="#f6d63a"/><ellipse cx="23.4" cy="-16.9" rx="2.9" ry="2.0" fill="#f6d63a"/><ellipse cx="21.7" cy="-8.1" rx="3.4" ry="2.4" fill="#f6d63a"/><ellipse cx="23.6" cy="-1.0" rx="3.3" ry="2.6" fill="#f6d63a"/><ellipse cx="26.4" cy="6.3" rx="3.4" ry="2.8" fill="#f6d63a"/><ellipse cx="22.5" cy="13.7" rx="2.7" ry="2.7" fill="#f6d63a"/><ellipse cx="23.5" cy="21.6" rx="3.3" ry="2.3" fill="#f6d63a"/><ellipse cx="23.7" cy="34.2" rx="3.2" ry="3.0" fill="#f6d63a"/><ellipse cx="22.2" cy="42.3" rx="3.9" ry="2.2" fill="#f6d63a"/><ellipse cx="30.3" cy="-46.9" rx="2.7" ry="2.4" fill="#f6d63a"/><ellipse cx="32.0" cy="-39.9" rx="2.7" ry="2.7" fill="#f6d63a"/><ellipse cx="30.6" cy="-15.1" rx="2.8" ry="2.1" fill="#f6d63a"/><ellipse cx="34.1" cy="-6.3" rx="3.2" ry="2.1" fill="#f6d63a"/><ellipse cx="31.8" cy="-1.6" rx="3.0" ry="2.5" fill="#f6d63a"/><ellipse cx="32.3" cy="7.9" rx="3.9" ry="2.8" fill="#f6d63a"/><ellipse cx="33.5" cy="18.1" rx="2.9" ry="2.5" fill="#f6d63a"/><ellipse cx="32.2" cy="22.9" rx="2.6" ry="2.8" fill="#f6d63a"/><ellipse cx="31.3" cy="41.0" rx="3.0" ry="2.5" fill="#f6d63a"/><ellipse cx="39.2" cy="-47.4" rx="3.2" ry="2.1" fill="#f6d63a"/><ellipse cx="39.5" cy="-38.1" rx="3.6" ry="2.6" fill="#f6d63a"/><ellipse cx="39.4" cy="-34.5" rx="2.5" ry="2.6" fill="#f6d63a"/><ellipse cx="38.8" cy="-24.3" rx="3.3" ry="2.6" fill="#f6d63a"/><ellipse cx="40.1" cy="-6.8" rx="3.2" ry="2.3" fill="#f6d63a"/><ellipse cx="40.6" cy="8.1" rx="3.7" ry="2.3" fill="#f6d63a"/><ellipse cx="38.5" cy="15.0" rx="3.8" ry="2.3" fill="#f6d63a"/><ellipse cx="39.6" cy="30.2" rx="2.8" ry="2.3" fill="#f6d63a"/><ellipse cx="48.9" cy="-41.7" rx="2.7" ry="2.9" fill="#f6d63a"/><ellipse cx="45.9" cy="-32.5" rx="3.5" ry="2.9" fill="#f6d63a"/><ellipse cx="48.3" cy="-21.7" rx="3.8" ry="2.5" fill="#f6d63a"/><ellipse cx="46.6" cy="-15.6" rx="2.9" ry="2.7" fill="#f6d63a"/><ellipse cx="47.6" cy="-9.8" rx="2.7" ry="2.7" fill="#f6d63a"/><ellipse cx="45.6" cy="0.5" rx="3.8" ry="2.6" fill="#f6d63a"/><ellipse cx="49.4" cy="7.4" rx="3.1" ry="2.3" fill="#f6d63a"/><ellipse cx="45.7" cy="14.6" rx="2.8" ry="2.5" fill="#f6d63a"/><ellipse cx="46.5" cy="25.4" rx="3.3" ry="2.8" fill="#f6d63a"/><ellipse cx="46.2" cy="39.2" rx="3.6" ry="2.5" fill="#f6d63a"/></g></g></g>
<path d="M214.1 445.2L278.5 412.0L342.9 445.2L278.5 478.4Z" fill="none" stroke="#d9363e" stroke-width="0.8" stroke-dasharray="2.2 1.6"/>
<g transform="translate(278.5,375.2) scale(0.9108,0.4483) rotate(45)"><g clip-path="url(#dc8)"><rect x="-50" y="-50" width="100" height="100" fill="#f3d5c7"/><rect x="-50" y="-50" width="100" height="100" fill="url(#condd)" opacity="0.85" filter="url(#sb05)"/></g></g>
<path d="M214.1 375.2L278.5 343.5L342.9 375.2L278.5 406.9Z" fill="none" stroke="#d9363e" stroke-width="0.8" stroke-dasharray="2.2 1.6"/>
<line x1="278.9" y1="375" x2="279.4" y2="406.9" stroke="#8a8480" stroke-opacity="0.55" stroke-width="2.8"/>
<line x1="279.4" y1="406.4" x2="279.9" y2="439.5" stroke="#000" stroke-width="2.8" marker-end="url(#av)"/>
<g transform="translate(278.5,308.2) scale(0.9136,0.4412) rotate(45)"><g clip-path="url(#dc9)"><rect x="-50" y="-50" width="100" height="100" fill="#566ce0"/><g filter="url(#sb05)" transform="rotate(15)"><circle cx="-82.6" cy="-82.1" r="8.1" fill="#b8ecf0"/><circle cx="-83.4" cy="-67.2" r="7.5" fill="#b8ecf0"/><circle cx="-83.0" cy="-48.8" r="8.2" fill="#b8ecf0"/><circle cx="-82.3" cy="-32.9" r="8.1" fill="#b8ecf0"/><circle cx="-83.4" cy="-16.6" r="7.1" fill="#b8ecf0"/><circle cx="-81.5" cy="-1.1" r="8.4" fill="#b8ecf0"/><circle cx="-83.5" cy="16.9" r="7.5" fill="#b8ecf0"/><circle cx="-82.7" cy="33.8" r="6.8" fill="#b8ecf0"/><circle cx="-83.6" cy="50.5" r="7.8" fill="#b8ecf0"/><circle cx="-83.5" cy="67.2" r="8.7" fill="#b8ecf0"/><circle cx="-83.4" cy="82.3" r="7.1" fill="#b8ecf0"/><circle cx="-66.4" cy="-82.2" r="7.1" fill="#b8ecf0"/><circle cx="-65.5" cy="-67.1" r="7.1" fill="#b8ecf0"/><circle cx="-65.2" cy="-49.7" r="7.6" fill="#b8ecf0"/><circle cx="-65.8" cy="-33.1" r="7.6" fill="#b8ecf0"/><circle cx="-67.1" cy="-16.0" r="8.7" fill="#b8ecf0"/><circle cx="-64.9" cy="0.4" r="7.5" fill="#b8ecf0"/><circle cx="-66.3" cy="17.0" r="8.1" fill="#b8ecf0"/><circle cx="-66.9" cy="32.4" r="7.5" fill="#b8ecf0"/><circle cx="-66.0" cy="50.2" r="7.8" fill="#b8ecf0"/><circle cx="-67.1" cy="66.8" r="7.7" fill="#b8ecf0"/><circle cx="-66.0" cy="81.8" r="7.7" fill="#b8ecf0"/><circle cx="-49.8" cy="-81.8" r="7.0" fill="#b8ecf0"/><circle cx="-49.4" cy="-66.8" r="8.2" fill="#b8ecf0"/><circle cx="-50.6" cy="-50.0" r="7.5" fill="#b8ecf0"/><circle cx="-49.2" cy="-34.1" r="7.7" fill="#b8ecf0"/><circle cx="-50.2" cy="-17.0" r="7.8" fill="#b8ecf0"/><circle cx="-48.4" cy="-0.0" r="8.7" fill="#b8ecf0"/><circle cx="-50.3" cy="17.5" r="7.5" fill="#b8ecf0"/><circle cx="-50.2" cy="33.6" r="8.6" fill="#b8ecf0"/><circle cx="-50.7" cy="48.9" r="8.3" fill="#b8ecf0"/><circle cx="-49.9" cy="65.4" r="6.8" fill="#b8ecf0"/><circle cx="-50.6" cy="82.8" r="8.8" fill="#b8ecf0"/><circle cx="-31.8" cy="-82.5" r="6.8" fill="#b8ecf0"/><circle cx="-33.4" cy="-65.3" r="8.5" fill="#b8ecf0"/><circle cx="-32.7" cy="-50.1" r="7.9" fill="#b8ecf0"/><circle cx="-33.1" cy="-32.7" r="7.3" fill="#b8ecf0"/><circle cx="-31.9" cy="-15.6" r="7.1" fill="#b8ecf0"/><circle cx="-33.5" cy="0.9" r="7.4" fill="#b8ecf0"/><circle cx="-31.9" cy="16.5" r="8.2" fill="#b8ecf0"/><circle cx="-32.5" cy="32.3" r="7.4" fill="#b8ecf0"/><circle cx="-33.6" cy="49.9" r="8.2" fill="#b8ecf0"/><circle cx="-33.9" cy="66.9" r="7.6" fill="#b8ecf0"/><circle cx="-33.6" cy="82.3" r="8.8" fill="#b8ecf0"/><circle cx="-16.4" cy="-82.2" r="8.6" fill="#b8ecf0"/><circle cx="-15.4" cy="-65.4" r="7.6" fill="#b8ecf0"/><circle cx="-16.3" cy="-48.5" r="8.4" fill="#b8ecf0"/><circle cx="-16.3" cy="-33.4" r="7.5" fill="#b8ecf0"/><circle cx="-15.9" cy="-16.3" r="6.8" fill="#b8ecf0"/><circle cx="-16.0" cy="1.0" r="8.4" fill="#b8ecf0"/><circle cx="-15.5" cy="17.5" r="7.9" fill="#b8ecf0"/><circle cx="-15.8" cy="32.7" r="7.0" fill="#b8ecf0"/><circle cx="-16.9" cy="49.0" r="8.7" fill="#b8ecf0"/><circle cx="-16.0" cy="66.1" r="8.0" fill="#b8ecf0"/><circle cx="-17.4" cy="82.6" r="8.2" fill="#b8ecf0"/><circle cx="-0.3" cy="-83.1" r="7.6" fill="#b8ecf0"/><circle cx="-0.4" cy="-65.6" r="7.1" fill="#b8ecf0"/><circle cx="-1.0" cy="-50.0" r="8.2" fill="#b8ecf0"/><circle cx="0.6" cy="-32.6" r="8.7" fill="#b8ecf0"/><circle cx="-0.3" cy="-17.6" r="7.8" fill="#b8ecf0"/><circle cx="-0.1" cy="-0.8" r="8.1" fill="#b8ecf0"/><circle cx="-0.4" cy="15.9" r="7.5" fill="#b8ecf0"/><circle cx="1.1" cy="31.8" r="7.5" fill="#b8ecf0"/><circle cx="-0.5" cy="48.8" r="7.7" fill="#b8ecf0"/><circle cx="-0.7" cy="67.0" r="7.8" fill="#b8ecf0"/><circle cx="0.5" cy="81.7" r="7.7" fill="#b8ecf0"/><circle cx="16.8" cy="-81.7" r="7.3" fill="#b8ecf0"/><circle cx="16.4" cy="-65.1" r="8.5" fill="#b8ecf0"/><circle cx="15.8" cy="-49.4" r="8.3" fill="#b8ecf0"/><circle cx="16.2" cy="-32.6" r="8.1" fill="#b8ecf0"/><circle cx="17.6" cy="-16.4" r="8.2" fill="#b8ecf0"/><circle cx="16.1" cy="0.6" r="7.4" fill="#b8ecf0"/><circle cx="16.5" cy="16.2" r="7.4" fill="#b8ecf0"/><circle cx="15.6" cy="32.3" r="7.9" fill="#b8ecf0"/><circle cx="15.9" cy="48.4" r="8.4" fill="#b8ecf0"/><circle cx="16.0" cy="67.0" r="8.0" fill="#b8ecf0"/><circle cx="16.2" cy="83.4" r="8.6" fill="#b8ecf0"/><circle cx="32.6" cy="-83.4" r="8.1" fill="#b8ecf0"/><circle cx="33.8" cy="-65.7" r="8.4" fill="#b8ecf0"/><circle cx="32.8" cy="-49.2" r="7.3" fill="#b8ecf0"/><circle cx="32.8" cy="-33.3" r="7.6" fill="#b8ecf0"/><circle cx="32.8" cy="-15.8" r="7.1" fill="#b8ecf0"/><circle cx="32.3" cy="-0.6" r="8.7" fill="#b8ecf0"/><circle cx="33.1" cy="15.4" r="8.5" fill="#b8ecf0"/><circle cx="33.9" cy="33.8" r="7.5" fill="#b8ecf0"/><circle cx="33.6" cy="49.0" r="7.1" fill="#b8ecf0"/><circle cx="33.9" cy="66.8" r="7.2" fill="#b8ecf0"/><circle cx="33.9" cy="81.4" r="7.4" fill="#b8ecf0"/><circle cx="48.3" cy="-83.3" r="7.1" fill="#b8ecf0"/><circle cx="50.0" cy="-66.5" r="7.2" fill="#b8ecf0"/><circle cx="48.7" cy="-50.0" r="8.5" fill="#b8ecf0"/><circle cx="49.8" cy="-34.0" r="8.2" fill="#b8ecf0"/><circle cx="49.6" cy="-16.6" r="7.9" fill="#b8ecf0"/><circle cx="49.9" cy="0.7" r="7.8" fill="#b8ecf0"/><circle cx="49.8" cy="16.4" r="8.1" fill="#b8ecf0"/><circle cx="49.2" cy="32.8" r="7.8" fill="#b8ecf0"/><circle cx="50.0" cy="49.0" r="8.6" fill="#b8ecf0"/><circle cx="49.5" cy="66.9" r="8.2" fill="#b8ecf0"/><circle cx="50.6" cy="82.9" r="7.7" fill="#b8ecf0"/><circle cx="65.8" cy="-82.2" r="8.3" fill="#b8ecf0"/><circle cx="66.8" cy="-66.9" r="6.9" fill="#b8ecf0"/><circle cx="65.1" cy="-50.5" r="6.9" fill="#b8ecf0"/><circle cx="64.8" cy="-33.6" r="7.0" fill="#b8ecf0"/><circle cx="66.4" cy="-16.2" r="8.7" fill="#b8ecf0"/><circle cx="67.1" cy="0.6" r="8.7" fill="#b8ecf0"/><circle cx="64.9" cy="15.8" r="8.7" fill="#b8ecf0"/><circle cx="65.9" cy="32.3" r="8.3" fill="#b8ecf0"/><circle cx="65.8" cy="49.6" r="7.4" fill="#b8ecf0"/><circle cx="65.4" cy="65.0" r="8.0" fill="#b8ecf0"/><circle cx="67.1" cy="83.7" r="8.3" fill="#b8ecf0"/><circle cx="83.5" cy="-82.8" r="7.4" fill="#b8ecf0"/><circle cx="83.5" cy="-65.8" r="8.1" fill="#b8ecf0"/><circle cx="81.3" cy="-50.2" r="7.8" fill="#b8ecf0"/><circle cx="83.1" cy="-32.2" r="8.3" fill="#b8ecf0"/><circle cx="82.1" cy="-16.8" r="8.5" fill="#b8ecf0"/><circle cx="83.7" cy="-0.0" r="7.2" fill="#b8ecf0"/><circle cx="82.8" cy="16.6" r="7.5" fill="#b8ecf0"/><circle cx="81.9" cy="32.7" r="8.0" fill="#b8ecf0"/><circle cx="81.6" cy="49.6" r="8.7" fill="#b8ecf0"/><circle cx="83.1" cy="65.4" r="7.6" fill="#b8ecf0"/><circle cx="81.5" cy="83.1" r="8.1" fill="#b8ecf0"/><circle cx="-82.6" cy="-82.1" r="6.0" fill="#e6eaa6"/><circle cx="-83.4" cy="-67.2" r="5.6" fill="#e6eaa6"/><circle cx="-83.0" cy="-48.8" r="6.0" fill="#e6eaa6"/><circle cx="-82.3" cy="-32.9" r="6.0" fill="#e6eaa6"/><circle cx="-83.4" cy="-16.6" r="5.3" fill="#e6eaa6"/><circle cx="-81.5" cy="-1.1" r="6.2" fill="#e6eaa6"/><circle cx="-83.5" cy="16.9" r="5.5" fill="#e6eaa6"/><circle cx="-82.7" cy="33.8" r="5.0" fill="#e6eaa6"/><circle cx="-83.6" cy="50.5" r="5.8" fill="#e6eaa6"/><circle cx="-83.5" cy="67.2" r="6.4" fill="#e6eaa6"/><circle cx="-83.4" cy="82.3" r="5.2" fill="#e6eaa6"/><circle cx="-66.4" cy="-82.2" r="5.3" fill="#e6eaa6"/><circle cx="-65.5" cy="-67.1" r="5.3" fill="#e6eaa6"/><circle cx="-65.2" cy="-49.7" r="5.6" fill="#e6eaa6"/><circle cx="-65.8" cy="-33.1" r="5.6" fill="#e6eaa6"/><circle cx="-67.1" cy="-16.0" r="6.4" fill="#e6eaa6"/><circle cx="-64.9" cy="0.4" r="5.5" fill="#e6eaa6"/><circle cx="-66.3" cy="17.0" r="6.0" fill="#e6eaa6"/><circle cx="-66.9" cy="32.4" r="5.6" fill="#e6eaa6"/><circle cx="-66.0" cy="50.2" r="5.8" fill="#e6eaa6"/><circle cx="-67.1" cy="66.8" r="5.6" fill="#e6eaa6"/><circle cx="-66.0" cy="81.8" r="5.6" fill="#e6eaa6"/><circle cx="-49.8" cy="-81.8" r="5.2" fill="#e6eaa6"/><circle cx="-49.4" cy="-66.8" r="6.0" fill="#e6eaa6"/><circle cx="-50.6" cy="-50.0" r="5.5" fill="#e6eaa6"/><circle cx="-49.2" cy="-34.1" r="5.7" fill="#e6eaa6"/><circle cx="-50.2" cy="-17.0" r="5.7" fill="#e6eaa6"/><circle cx="-48.4" cy="-0.0" r="6.4" fill="#e6eaa6"/><circle cx="-50.3" cy="17.5" r="5.6" fill="#e6eaa6"/><circle cx="-50.2" cy="33.6" r="6.4" fill="#e6eaa6"/><circle cx="-50.7" cy="48.9" r="6.2" fill="#e6eaa6"/><circle cx="-49.9" cy="65.4" r="5.0" fill="#e6eaa6"/><circle cx="-50.6" cy="82.8" r="6.5" fill="#e6eaa6"/><circle cx="-31.8" cy="-82.5" r="5.1" fill="#e6eaa6"/><circle cx="-33.4" cy="-65.3" r="6.2" fill="#e6eaa6"/><circle cx="-32.7" cy="-50.1" r="5.8" fill="#e6eaa6"/><circle cx="-33.1" cy="-32.7" r="5.4" fill="#e6eaa6"/><circle cx="-31.9" cy="-15.6" r="5.3" fill="#e6eaa6"/><circle cx="-33.5" cy="0.9" r="5.4" fill="#e6eaa6"/><circle cx="-31.9" cy="16.5" r="6.0" fill="#e6eaa6"/><circle cx="-32.5" cy="32.3" r="5.4" fill="#e6eaa6"/><circle cx="-33.6" cy="49.9" r="6.0" fill="#e6eaa6"/><circle cx="-33.9" cy="66.9" r="5.6" fill="#e6eaa6"/><circle cx="-33.6" cy="82.3" r="6.5" fill="#e6eaa6"/><circle cx="-16.4" cy="-82.2" r="6.4" fill="#e6eaa6"/><circle cx="-15.4" cy="-65.4" r="5.6" fill="#e6eaa6"/><circle cx="-16.3" cy="-48.5" r="6.2" fill="#e6eaa6"/><circle cx="-16.3" cy="-33.4" r="5.6" fill="#e6eaa6"/><circle cx="-15.9" cy="-16.3" r="5.0" fill="#e6eaa6"/><circle cx="-16.0" cy="1.0" r="6.2" fill="#e6eaa6"/><circle cx="-15.5" cy="17.5" r="5.8" fill="#e6eaa6"/><circle cx="-15.8" cy="32.7" r="5.2" fill="#e6eaa6"/><circle cx="-16.9" cy="49.0" r="6.4" fill="#e6eaa6"/><circle cx="-16.0" cy="66.1" r="5.9" fill="#e6eaa6"/><circle cx="-17.4" cy="82.6" r="6.0" fill="#e6eaa6"/><circle cx="-0.3" cy="-83.1" r="5.6" fill="#e6eaa6"/><circle cx="-0.4" cy="-65.6" r="5.2" fill="#e6eaa6"/><circle cx="-1.0" cy="-50.0" r="6.0" fill="#e6eaa6"/><circle cx="0.6" cy="-32.6" r="6.4" fill="#e6eaa6"/><circle cx="-0.3" cy="-17.6" r="5.7" fill="#e6eaa6"/><circle cx="-0.1" cy="-0.8" r="6.0" fill="#e6eaa6"/><circle cx="-0.4" cy="15.9" r="5.5" fill="#e6eaa6"/><circle cx="1.1" cy="31.8" r="5.5" fill="#e6eaa6"/><circle cx="-0.5" cy="48.8" r="5.7" fill="#e6eaa6"/><circle cx="-0.7" cy="67.0" r="5.8" fill="#e6eaa6"/><circle cx="0.5" cy="81.7" r="5.7" fill="#e6eaa6"/><circle cx="16.8" cy="-81.7" r="5.4" fill="#e6eaa6"/><circle cx="16.4" cy="-65.1" r="6.2" fill="#e6eaa6"/><circle cx="15.8" cy="-49.4" r="6.1" fill="#e6eaa6"/><circle cx="16.2" cy="-32.6" r="6.0" fill="#e6eaa6"/><circle cx="17.6" cy="-16.4" r="6.0" fill="#e6eaa6"/><circle cx="16.1" cy="0.6" r="5.5" fill="#e6eaa6"/><circle cx="16.5" cy="16.2" r="5.5" fill="#e6eaa6"/><circle cx="15.6" cy="32.3" r="5.8" fill="#e6eaa6"/><circle cx="15.9" cy="48.4" r="6.2" fill="#e6eaa6"/><circle cx="16.0" cy="67.0" r="5.9" fill="#e6eaa6"/><circle cx="16.2" cy="83.4" r="6.3" fill="#e6eaa6"/><circle cx="32.6" cy="-83.4" r="6.0" fill="#e6eaa6"/><circle cx="33.8" cy="-65.7" r="6.2" fill="#e6eaa6"/><circle cx="32.8" cy="-49.2" r="5.4" fill="#e6eaa6"/><circle cx="32.8" cy="-33.3" r="5.6" fill="#e6eaa6"/><circle cx="32.8" cy="-15.8" r="5.3" fill="#e6eaa6"/><circle cx="32.3" cy="-0.6" r="6.4" fill="#e6eaa6"/><circle cx="33.1" cy="15.4" r="6.2" fill="#e6eaa6"/><circle cx="33.9" cy="33.8" r="5.5" fill="#e6eaa6"/><circle cx="33.6" cy="49.0" r="5.2" fill="#e6eaa6"/><circle cx="33.9" cy="66.8" r="5.3" fill="#e6eaa6"/><circle cx="33.9" cy="81.4" r="5.5" fill="#e6eaa6"/><circle cx="48.3" cy="-83.3" r="5.3" fill="#e6eaa6"/><circle cx="50.0" cy="-66.5" r="5.3" fill="#e6eaa6"/><circle cx="48.7" cy="-50.0" r="6.3" fill="#e6eaa6"/><circle cx="49.8" cy="-34.0" r="6.0" fill="#e6eaa6"/><circle cx="49.6" cy="-16.6" r="5.8" fill="#e6eaa6"/><circle cx="49.9" cy="0.7" r="5.8" fill="#e6eaa6"/><circle cx="49.8" cy="16.4" r="6.0" fill="#e6eaa6"/><circle cx="49.2" cy="32.8" r="5.8" fill="#e6eaa6"/><circle cx="50.0" cy="49.0" r="6.4" fill="#e6eaa6"/><circle cx="49.5" cy="66.9" r="6.0" fill="#e6eaa6"/><circle cx="50.6" cy="82.9" r="5.6" fill="#e6eaa6"/><circle cx="65.8" cy="-82.2" r="6.1" fill="#e6eaa6"/><circle cx="66.8" cy="-66.9" r="5.1" fill="#e6eaa6"/><circle cx="65.1" cy="-50.5" r="5.1" fill="#e6eaa6"/><circle cx="64.8" cy="-33.6" r="5.2" fill="#e6eaa6"/><circle cx="66.4" cy="-16.2" r="6.4" fill="#e6eaa6"/><circle cx="67.1" cy="0.6" r="6.4" fill="#e6eaa6"/><circle cx="64.9" cy="15.8" r="6.4" fill="#e6eaa6"/><circle cx="65.9" cy="32.3" r="6.1" fill="#e6eaa6"/><circle cx="65.8" cy="49.6" r="5.5" fill="#e6eaa6"/><circle cx="65.4" cy="65.0" r="5.9" fill="#e6eaa6"/><circle cx="67.1" cy="83.7" r="6.1" fill="#e6eaa6"/><circle cx="83.5" cy="-82.8" r="5.5" fill="#e6eaa6"/><circle cx="83.5" cy="-65.8" r="6.0" fill="#e6eaa6"/><circle cx="81.3" cy="-50.2" r="5.7" fill="#e6eaa6"/><circle cx="83.1" cy="-32.2" r="6.1" fill="#e6eaa6"/><circle cx="82.1" cy="-16.8" r="6.3" fill="#e6eaa6"/><circle cx="83.7" cy="-0.0" r="5.3" fill="#e6eaa6"/><circle cx="82.8" cy="16.6" r="5.5" fill="#e6eaa6"/><circle cx="81.9" cy="32.7" r="5.9" fill="#e6eaa6"/><circle cx="81.6" cy="49.6" r="6.4" fill="#e6eaa6"/><circle cx="83.1" cy="65.4" r="5.6" fill="#e6eaa6"/><circle cx="81.5" cy="83.1" r="5.9" fill="#e6eaa6"/><circle cx="-82.6" cy="-82.1" r="4.1" fill="#ecc8c4"/><circle cx="-82.6" cy="-82.1" r="3.9" fill="url(#mdots)"/><circle cx="-83.4" cy="-67.2" r="3.8" fill="#ecc8c4"/><circle cx="-83.4" cy="-67.2" r="3.6" fill="url(#mdots)"/><circle cx="-83.0" cy="-48.8" r="4.1" fill="#ecc8c4"/><circle cx="-83.0" cy="-48.8" r="3.9" fill="url(#mdots)"/><circle cx="-82.3" cy="-32.9" r="4.1" fill="#ecc8c4"/><circle cx="-82.3" cy="-32.9" r="3.9" fill="url(#mdots)"/><circle cx="-83.4" cy="-16.6" r="3.6" fill="#ecc8c4"/><circle cx="-83.4" cy="-16.6" r="3.4" fill="url(#mdots)"/><circle cx="-81.5" cy="-1.1" r="4.2" fill="#ecc8c4"/><circle cx="-81.5" cy="-1.1" r="4.0" fill="url(#mdots)"/><circle cx="-83.5" cy="16.9" r="3.7" fill="#ecc8c4"/><circle cx="-83.5" cy="16.9" r="3.6" fill="url(#mdots)"/><circle cx="-82.7" cy="33.8" r="3.4" fill="#ecc8c4"/><circle cx="-82.7" cy="33.8" r="3.2" fill="url(#mdots)"/><circle cx="-83.6" cy="50.5" r="3.9" fill="#ecc8c4"/><circle cx="-83.6" cy="50.5" r="3.7" fill="url(#mdots)"/><circle cx="-83.5" cy="67.2" r="4.3" fill="#ecc8c4"/><circle cx="-83.5" cy="67.2" r="4.1" fill="url(#mdots)"/><circle cx="-83.4" cy="82.3" r="3.5" fill="#ecc8c4"/><circle cx="-83.4" cy="82.3" r="3.4" fill="url(#mdots)"/><circle cx="-66.4" cy="-82.2" r="3.6" fill="#ecc8c4"/><circle cx="-66.4" cy="-82.2" r="3.4" fill="url(#mdots)"/><circle cx="-65.5" cy="-67.1" r="3.6" fill="#ecc8c4"/><circle cx="-65.5" cy="-67.1" r="3.4" fill="url(#mdots)"/><circle cx="-65.2" cy="-49.7" r="3.8" fill="#ecc8c4"/><circle cx="-65.2" cy="-49.7" r="3.6" fill="url(#mdots)"/><circle cx="-65.8" cy="-33.1" r="3.8" fill="#ecc8c4"/><circle cx="-65.8" cy="-33.1" r="3.6" fill="url(#mdots)"/><circle cx="-67.1" cy="-16.0" r="4.4" fill="#ecc8c4"/><circle cx="-67.1" cy="-16.0" r="4.1" fill="url(#mdots)"/><circle cx="-64.9" cy="0.4" r="3.8" fill="#ecc8c4"/><circle cx="-64.9" cy="0.4" r="3.6" fill="url(#mdots)"/><circle cx="-66.3" cy="17.0" r="4.1" fill="#ecc8c4"/><circle cx="-66.3" cy="17.0" r="3.9" fill="url(#mdots)"/><circle cx="-66.9" cy="32.4" r="3.8" fill="#ecc8c4"/><circle cx="-66.9" cy="32.4" r="3.6" fill="url(#mdots)"/><circle cx="-66.0" cy="50.2" r="3.9" fill="#ecc8c4"/><circle cx="-66.0" cy="50.2" r="3.7" fill="url(#mdots)"/><circle cx="-67.1" cy="66.8" r="3.8" fill="#ecc8c4"/><circle cx="-67.1" cy="66.8" r="3.6" fill="url(#mdots)"/><circle cx="-66.0" cy="81.8" r="3.8" fill="#ecc8c4"/><circle cx="-66.0" cy="81.8" r="3.6" fill="url(#mdots)"/><circle cx="-49.8" cy="-81.8" r="3.5" fill="#ecc8c4"/><circle cx="-49.8" cy="-81.8" r="3.3" fill="url(#mdots)"/><circle cx="-49.4" cy="-66.8" r="4.1" fill="#ecc8c4"/><circle cx="-49.4" cy="-66.8" r="3.9" fill="url(#mdots)"/><circle cx="-50.6" cy="-50.0" r="3.7" fill="#ecc8c4"/><circle cx="-50.6" cy="-50.0" r="3.6" fill="url(#mdots)"/><circle cx="-49.2" cy="-34.1" r="3.9" fill="#ecc8c4"/><circle cx="-49.2" cy="-34.1" r="3.7" fill="url(#mdots)"/><circle cx="-50.2" cy="-17.0" r="3.9" fill="#ecc8c4"/><circle cx="-50.2" cy="-17.0" r="3.7" fill="url(#mdots)"/><circle cx="-48.4" cy="-0.0" r="4.4" fill="#ecc8c4"/><circle cx="-48.4" cy="-0.0" r="4.1" fill="url(#mdots)"/><circle cx="-50.3" cy="17.5" r="3.8" fill="#ecc8c4"/><circle cx="-50.3" cy="17.5" r="3.6" fill="url(#mdots)"/><circle cx="-50.2" cy="33.6" r="4.3" fill="#ecc8c4"/><circle cx="-50.2" cy="33.6" r="4.1" fill="url(#mdots)"/><circle cx="-50.7" cy="48.9" r="4.2" fill="#ecc8c4"/><circle cx="-50.7" cy="48.9" r="4.0" fill="url(#mdots)"/><circle cx="-49.9" cy="65.4" r="3.4" fill="#ecc8c4"/><circle cx="-49.9" cy="65.4" r="3.2" fill="url(#mdots)"/><circle cx="-50.6" cy="82.8" r="4.4" fill="#ecc8c4"/><circle cx="-50.6" cy="82.8" r="4.2" fill="url(#mdots)"/><circle cx="-31.8" cy="-82.5" r="3.4" fill="#ecc8c4"/><circle cx="-31.8" cy="-82.5" r="3.3" fill="url(#mdots)"/><circle cx="-33.4" cy="-65.3" r="4.2" fill="#ecc8c4"/><circle cx="-33.4" cy="-65.3" r="4.0" fill="url(#mdots)"/><circle cx="-32.7" cy="-50.1" r="3.9" fill="#ecc8c4"/><circle cx="-32.7" cy="-50.1" r="3.7" fill="url(#mdots)"/><circle cx="-33.1" cy="-32.7" r="3.7" fill="#ecc8c4"/><circle cx="-33.1" cy="-32.7" r="3.5" fill="url(#mdots)"/><circle cx="-31.9" cy="-15.6" r="3.6" fill="#ecc8c4"/><circle cx="-31.9" cy="-15.6" r="3.4" fill="url(#mdots)"/><circle cx="-33.5" cy="0.9" r="3.7" fill="#ecc8c4"/><circle cx="-33.5" cy="0.9" r="3.5" fill="url(#mdots)"/><circle cx="-31.9" cy="16.5" r="4.1" fill="#ecc8c4"/><circle cx="-31.9" cy="16.5" r="3.9" fill="url(#mdots)"/><circle cx="-32.5" cy="32.3" r="3.7" fill="#ecc8c4"/><circle cx="-32.5" cy="32.3" r="3.5" fill="url(#mdots)"/><circle cx="-33.6" cy="49.9" r="4.1" fill="#ecc8c4"/><circle cx="-33.6" cy="49.9" r="3.9" fill="url(#mdots)"/><circle cx="-33.9" cy="66.9" r="3.8" fill="#ecc8c4"/><circle cx="-33.9" cy="66.9" r="3.6" fill="url(#mdots)"/><circle cx="-33.6" cy="82.3" r="4.4" fill="#ecc8c4"/><circle cx="-33.6" cy="82.3" r="4.2" fill="url(#mdots)"/><circle cx="-16.4" cy="-82.2" r="4.3" fill="#ecc8c4"/><circle cx="-16.4" cy="-82.2" r="4.1" fill="url(#mdots)"/><circle cx="-15.4" cy="-65.4" r="3.8" fill="#ecc8c4"/><circle cx="-15.4" cy="-65.4" r="3.6" fill="url(#mdots)"/><circle cx="-16.3" cy="-48.5" r="4.2" fill="#ecc8c4"/><circle cx="-16.3" cy="-48.5" r="4.0" fill="url(#mdots)"/><circle cx="-16.3" cy="-33.4" r="3.8" fill="#ecc8c4"/><circle cx="-16.3" cy="-33.4" r="3.6" fill="url(#mdots)"/><circle cx="-15.9" cy="-16.3" r="3.4" fill="#ecc8c4"/><circle cx="-15.9" cy="-16.3" r="3.2" fill="url(#mdots)"/><circle cx="-16.0" cy="1.0" r="4.2" fill="#ecc8c4"/><circle cx="-16.0" cy="1.0" r="4.0" fill="url(#mdots)"/><circle cx="-15.5" cy="17.5" r="3.9" fill="#ecc8c4"/><circle cx="-15.5" cy="17.5" r="3.7" fill="url(#mdots)"/><circle cx="-15.8" cy="32.7" r="3.5" fill="#ecc8c4"/><circle cx="-15.8" cy="32.7" r="3.3" fill="url(#mdots)"/><circle cx="-16.9" cy="49.0" r="4.3" fill="#ecc8c4"/><circle cx="-16.9" cy="49.0" r="4.1" fill="url(#mdots)"/><circle cx="-16.0" cy="66.1" r="4.0" fill="#ecc8c4"/><circle cx="-16.0" cy="66.1" r="3.8" fill="url(#mdots)"/><circle cx="-17.4" cy="82.6" r="4.1" fill="#ecc8c4"/><circle cx="-17.4" cy="82.6" r="3.9" fill="url(#mdots)"/><circle cx="-0.3" cy="-83.1" r="3.8" fill="#ecc8c4"/><circle cx="-0.3" cy="-83.1" r="3.6" fill="url(#mdots)"/><circle cx="-0.4" cy="-65.6" r="3.5" fill="#ecc8c4"/><circle cx="-0.4" cy="-65.6" r="3.4" fill="url(#mdots)"/><circle cx="-1.0" cy="-50.0" r="4.1" fill="#ecc8c4"/><circle cx="-1.0" cy="-50.0" r="3.9" fill="url(#mdots)"/><circle cx="0.6" cy="-32.6" r="4.3" fill="#ecc8c4"/><circle cx="0.6" cy="-32.6" r="4.1" fill="url(#mdots)"/><circle cx="-0.3" cy="-17.6" r="3.9" fill="#ecc8c4"/><circle cx="-0.3" cy="-17.6" r="3.7" fill="url(#mdots)"/><circle cx="-0.1" cy="-0.8" r="4.1" fill="#ecc8c4"/><circle cx="-0.1" cy="-0.8" r="3.9" fill="url(#mdots)"/><circle cx="-0.4" cy="15.9" r="3.7" fill="#ecc8c4"/><circle cx="-0.4" cy="15.9" r="3.5" fill="url(#mdots)"/><circle cx="1.1" cy="31.8" r="3.8" fill="#ecc8c4"/><circle cx="1.1" cy="31.8" r="3.6" fill="url(#mdots)"/><circle cx="-0.5" cy="48.8" r="3.8" fill="#ecc8c4"/><circle cx="-0.5" cy="48.8" r="3.6" fill="url(#mdots)"/><circle cx="-0.7" cy="67.0" r="3.9" fill="#ecc8c4"/><circle cx="-0.7" cy="67.0" r="3.7" fill="url(#mdots)"/><circle cx="0.5" cy="81.7" r="3.9" fill="#ecc8c4"/><circle cx="0.5" cy="81.7" r="3.7" fill="url(#mdots)"/><circle cx="16.8" cy="-81.7" r="3.6" fill="#ecc8c4"/><circle cx="16.8" cy="-81.7" r="3.5" fill="url(#mdots)"/><circle cx="16.4" cy="-65.1" r="4.2" fill="#ecc8c4"/><circle cx="16.4" cy="-65.1" r="4.0" fill="url(#mdots)"/><circle cx="15.8" cy="-49.4" r="4.2" fill="#ecc8c4"/><circle cx="15.8" cy="-49.4" r="4.0" fill="url(#mdots)"/><circle cx="16.2" cy="-32.6" r="4.1" fill="#ecc8c4"/><circle cx="16.2" cy="-32.6" r="3.9" fill="url(#mdots)"/><circle cx="17.6" cy="-16.4" r="4.1" fill="#ecc8c4"/><circle cx="17.6" cy="-16.4" r="3.9" fill="url(#mdots)"/><circle cx="16.1" cy="0.6" r="3.7" fill="#ecc8c4"/><circle cx="16.1" cy="0.6" r="3.5" fill="url(#mdots)"/><circle cx="16.5" cy="16.2" r="3.7" fill="#ecc8c4"/><circle cx="16.5" cy="16.2" r="3.5" fill="url(#mdots)"/><circle cx="15.6" cy="32.3" r="3.9" fill="#ecc8c4"/><circle cx="15.6" cy="32.3" r="3.7" fill="url(#mdots)"/><circle cx="15.9" cy="48.4" r="4.2" fill="#ecc8c4"/><circle cx="15.9" cy="48.4" r="4.0" fill="url(#mdots)"/><circle cx="16.0" cy="67.0" r="4.0" fill="#ecc8c4"/><circle cx="16.0" cy="67.0" r="3.8" fill="url(#mdots)"/><circle cx="16.2" cy="83.4" r="4.3" fill="#ecc8c4"/><circle cx="16.2" cy="83.4" r="4.1" fill="url(#mdots)"/><circle cx="32.6" cy="-83.4" r="4.0" fill="#ecc8c4"/><circle cx="32.6" cy="-83.4" r="3.8" fill="url(#mdots)"/><circle cx="33.8" cy="-65.7" r="4.2" fill="#ecc8c4"/><circle cx="33.8" cy="-65.7" r="4.0" fill="url(#mdots)"/><circle cx="32.8" cy="-49.2" r="3.7" fill="#ecc8c4"/><circle cx="32.8" cy="-49.2" r="3.5" fill="url(#mdots)"/><circle cx="32.8" cy="-33.3" r="3.8" fill="#ecc8c4"/><circle cx="32.8" cy="-33.3" r="3.6" fill="url(#mdots)"/><circle cx="32.8" cy="-15.8" r="3.6" fill="#ecc8c4"/><circle cx="32.8" cy="-15.8" r="3.4" fill="url(#mdots)"/><circle cx="32.3" cy="-0.6" r="4.4" fill="#ecc8c4"/><circle cx="32.3" cy="-0.6" r="4.2" fill="url(#mdots)"/><circle cx="33.1" cy="15.4" r="4.2" fill="#ecc8c4"/><circle cx="33.1" cy="15.4" r="4.0" fill="url(#mdots)"/><circle cx="33.9" cy="33.8" r="3.8" fill="#ecc8c4"/><circle cx="33.9" cy="33.8" r="3.6" fill="url(#mdots)"/><circle cx="33.6" cy="49.0" r="3.5" fill="#ecc8c4"/><circle cx="33.6" cy="49.0" r="3.4" fill="url(#mdots)"/><circle cx="33.9" cy="66.8" r="3.6" fill="#ecc8c4"/><circle cx="33.9" cy="66.8" r="3.4" fill="url(#mdots)"/><circle cx="33.9" cy="81.4" r="3.7" fill="#ecc8c4"/><circle cx="33.9" cy="81.4" r="3.5" fill="url(#mdots)"/><circle cx="48.3" cy="-83.3" r="3.6" fill="#ecc8c4"/><circle cx="48.3" cy="-83.3" r="3.4" fill="url(#mdots)"/><circle cx="50.0" cy="-66.5" r="3.6" fill="#ecc8c4"/><circle cx="50.0" cy="-66.5" r="3.4" fill="url(#mdots)"/><circle cx="48.7" cy="-50.0" r="4.3" fill="#ecc8c4"/><circle cx="48.7" cy="-50.0" r="4.0" fill="url(#mdots)"/><circle cx="49.8" cy="-34.0" r="4.1" fill="#ecc8c4"/><circle cx="49.8" cy="-34.0" r="3.9" fill="url(#mdots)"/><circle cx="49.6" cy="-16.6" r="3.9" fill="#ecc8c4"/><circle cx="49.6" cy="-16.6" r="3.7" fill="url(#mdots)"/><circle cx="49.9" cy="0.7" r="3.9" fill="#ecc8c4"/><circle cx="49.9" cy="0.7" r="3.7" fill="url(#mdots)"/><circle cx="49.8" cy="16.4" r="4.0" fill="#ecc8c4"/><circle cx="49.8" cy="16.4" r="3.8" fill="url(#mdots)"/><circle cx="49.2" cy="32.8" r="3.9" fill="#ecc8c4"/><circle cx="49.2" cy="32.8" r="3.7" fill="url(#mdots)"/><circle cx="50.0" cy="49.0" r="4.3" fill="#ecc8c4"/><circle cx="50.0" cy="49.0" r="4.1" fill="url(#mdots)"/><circle cx="49.5" cy="66.9" r="4.1" fill="#ecc8c4"/><circle cx="49.5" cy="66.9" r="3.9" fill="url(#mdots)"/><circle cx="50.6" cy="82.9" r="3.8" fill="#ecc8c4"/><circle cx="50.6" cy="82.9" r="3.6" fill="url(#mdots)"/><circle cx="65.8" cy="-82.2" r="4.2" fill="#ecc8c4"/><circle cx="65.8" cy="-82.2" r="3.9" fill="url(#mdots)"/><circle cx="66.8" cy="-66.9" r="3.5" fill="#ecc8c4"/><circle cx="66.8" cy="-66.9" r="3.3" fill="url(#mdots)"/><circle cx="65.1" cy="-50.5" r="3.5" fill="#ecc8c4"/><circle cx="65.1" cy="-50.5" r="3.3" fill="url(#mdots)"/><circle cx="64.8" cy="-33.6" r="3.5" fill="#ecc8c4"/><circle cx="64.8" cy="-33.6" r="3.3" fill="url(#mdots)"/><circle cx="66.4" cy="-16.2" r="4.4" fill="#ecc8c4"/><circle cx="66.4" cy="-16.2" r="4.1" fill="url(#mdots)"/><circle cx="67.1" cy="0.6" r="4.3" fill="#ecc8c4"/><circle cx="67.1" cy="0.6" r="4.1" fill="url(#mdots)"/><circle cx="64.9" cy="15.8" r="4.3" fill="#ecc8c4"/><circle cx="64.9" cy="15.8" r="4.1" fill="url(#mdots)"/><circle cx="65.9" cy="32.3" r="4.2" fill="#ecc8c4"/><circle cx="65.9" cy="32.3" r="3.9" fill="url(#mdots)"/><circle cx="65.8" cy="49.6" r="3.7" fill="#ecc8c4"/><circle cx="65.8" cy="49.6" r="3.5" fill="url(#mdots)"/><circle cx="65.4" cy="65.0" r="4.0" fill="#ecc8c4"/><circle cx="65.4" cy="65.0" r="3.8" fill="url(#mdots)"/><circle cx="67.1" cy="83.7" r="4.2" fill="#ecc8c4"/><circle cx="67.1" cy="83.7" r="4.0" fill="url(#mdots)"/><circle cx="83.5" cy="-82.8" r="3.7" fill="#ecc8c4"/><circle cx="83.5" cy="-82.8" r="3.5" fill="url(#mdots)"/><circle cx="83.5" cy="-65.8" r="4.1" fill="#ecc8c4"/><circle cx="83.5" cy="-65.8" r="3.9" fill="url(#mdots)"/><circle cx="81.3" cy="-50.2" r="3.9" fill="#ecc8c4"/><circle cx="81.3" cy="-50.2" r="3.7" fill="url(#mdots)"/><circle cx="83.1" cy="-32.2" r="4.2" fill="#ecc8c4"/><circle cx="83.1" cy="-32.2" r="3.9" fill="url(#mdots)"/><circle cx="82.1" cy="-16.8" r="4.3" fill="#ecc8c4"/><circle cx="82.1" cy="-16.8" r="4.0" fill="url(#mdots)"/><circle cx="83.7" cy="-0.0" r="3.6" fill="#ecc8c4"/><circle cx="83.7" cy="-0.0" r="3.4" fill="url(#mdots)"/><circle cx="82.8" cy="16.6" r="3.8" fill="#ecc8c4"/><circle cx="82.8" cy="16.6" r="3.6" fill="url(#mdots)"/><circle cx="81.9" cy="32.7" r="4.0" fill="#ecc8c4"/><circle cx="81.9" cy="32.7" r="3.8" fill="url(#mdots)"/><circle cx="81.6" cy="49.6" r="4.4" fill="#ecc8c4"/><circle cx="81.6" cy="49.6" r="4.1" fill="url(#mdots)"/><circle cx="83.1" cy="65.4" r="3.8" fill="#ecc8c4"/><circle cx="83.1" cy="65.4" r="3.6" fill="url(#mdots)"/><circle cx="81.5" cy="83.1" r="4.0" fill="#ecc8c4"/><circle cx="81.5" cy="83.1" r="3.8" fill="url(#mdots)"/></g><rect x="-50" y="-50" width="100" height="100" fill="url(#wdots)" opacity="0.8"/></g></g>
<path d="M213.9 308.2L278.5 277.0L343.1 308.2L278.5 339.4Z" fill="none" stroke="#d9363e" stroke-width="0.8" stroke-dasharray="2.2 1.6"/>
<line x1="277.8" y1="306.9" x2="278.4" y2="339.4" stroke="#20182a" stroke-opacity="0.85" stroke-width="2.8"/>
<line x1="278.4" y1="338.9" x2="278.9" y2="375" stroke="#000" stroke-width="2.8"/>
<circle cx="277.8" cy="306.9" r="3.5" fill="#c4000c" stroke="#8a0008" stroke-width="0.4"/>
<text x="284.6" y="309.4" font-size="15" font-weight="bold" fill="#000" text-anchor="start" >O</text>
<circle cx="278.9" cy="375" r="3.5" fill="#c4000c" stroke="#8a0008" stroke-width="0.4"/>
<text x="285.7" y="379.2" font-size="15" font-weight="bold" fill="#000" text-anchor="start" >O</text>
<circle cx="279.9" cy="443" r="3.5" fill="#c4000c" stroke="#8a0008" stroke-width="0.4"/>
<text x="286.7" y="447.2" font-size="15" font-weight="bold" fill="#000" text-anchor="start" >O</text>
<text transform="translate(222.2,301.9) rotate(-29.3)" font-size="10" font-weight="bold" font-style="italic">Heat flux</text>
<text transform="translate(208.5,375.2) rotate(-29.3)" font-size="10" font-weight="bold" font-style="italic">Conductivity</text>
<text transform="translate(215.6,438.8) rotate(-29.3)" font-size="10" font-weight="bold" font-style="italic">Vorticity</text>
<text x="324.8" y="296.6" font-size="15.5" font-weight="bold" fill="#000" text-anchor="start" >(i)</text>
<text x="324.8" y="361.6" font-size="15.5" font-weight="bold" fill="#000" text-anchor="start" >(ii)</text>
<text x="324.8" y="426.9" font-size="15.5" font-weight="bold" fill="#000" text-anchor="start" >(iii)</text>
<g id="plot-e">
<line x1="431.8" x2="431.8" y1="273.3" y2="459.0" stroke="#a9a9a9" stroke-width="0.9" stroke-dasharray="3.5 2.8"/>
<line x1="457.8" x2="457.8" y1="273.3" y2="459.0" stroke="#a9a9a9" stroke-width="0.9" stroke-dasharray="3.5 2.8"/>
<line x1="479.3" x2="479.3" y1="273.3" y2="459.0" stroke="#a9a9a9" stroke-width="0.9" stroke-dasharray="3.5 2.8"/>
<line x1="496.3" x2="496.3" y1="273.3" y2="459.0" stroke="#a9a9a9" stroke-width="0.9" stroke-dasharray="3.5 2.8"/>
<line x1="516.7" x2="516.7" y1="273.3" y2="459.0" stroke="#a9a9a9" stroke-width="0.9" stroke-dasharray="3.5 2.8"/>
<line x1="524.2" x2="524.2" y1="273.3" y2="459.0" stroke="#a9a9a9" stroke-width="0.9" stroke-dasharray="3.5 2.8"/>
<line x1="530.1" x2="530.1" y1="273.3" y2="459.0" stroke="#a9a9a9" stroke-width="0.9" stroke-dasharray="3.5 2.8"/>
<line x1="564.2" x2="564.2" y1="273.3" y2="459.0" stroke="#a9a9a9" stroke-width="0.9" stroke-dasharray="3.5 2.8"/>
<line x1="570.0" x2="570.0" y1="273.3" y2="459.0" stroke="#a9a9a9" stroke-width="0.9" stroke-dasharray="3.5 2.8"/>
<line x1="578.7" x2="578.7" y1="273.3" y2="459.0" stroke="#a9a9a9" stroke-width="0.9" stroke-dasharray="3.5 2.8"/>
<line x1="614.1" x2="614.1" y1="273.3" y2="459.0" stroke="#a9a9a9" stroke-width="0.9" stroke-dasharray="3.5 2.8"/>
<line x1="635.9" x2="635.9" y1="273.3" y2="459.0" stroke="#a9a9a9" stroke-width="0.9" stroke-dasharray="3.5 2.8"/>
<line x1="653.5" x2="653.5" y1="273.3" y2="459.0" stroke="#a9a9a9" stroke-width="0.9" stroke-dasharray="3.5 2.8"/>
<line x1="662.4" x2="662.4" y1="273.3" y2="459.0" stroke="#a9a9a9" stroke-width="0.9" stroke-dasharray="3.5 2.8"/>
<polyline fill="none" stroke="#1414ff" stroke-width="1.4" stroke-linejoin="round" points="424.0,294.3 426.8,288.5 429.6,290.2 432.4,301.2 435.2,286.4 438.0,289.6 440.7,294.9 443.5,289.1 446.3,285.0 449.1,287.3 450.2,286.2 451.9,290.2 454.7,300.7 456.6,286.2 457.5,300.7 460.3,287.9 463.1,285.0 465.9,287.3 466.6,285.0 468.7,285.0 471.5,285.6 474.0,305.3 475.1,286.2 477.0,295.4 479.8,362.7 482.6,287.3 484.4,292.0 485.4,292.5 488.2,298.3 491.0,284.4 493.8,292.0 496.6,304.1 499.4,288.5 499.6,289.1 502.2,290.2 505.0,285.0 507.8,292.0 510.5,287.3 513.3,287.3 516.1,323.9 518.9,293.7 521.7,286.4 524.1,452.6 525.1,309.4 527.3,295.4 530.1,337.2 532.9,287.3 535.7,297.2 538.5,285.0 541.3,287.3 544.0,286.4 546.8,303.0 549.6,285.0 552.4,285.0 555.2,284.4 558.0,285.0 560.8,285.6 563.6,318.1 566.4,292.5 568.9,301.2 569.5,412.6 572.0,285.6 574.8,286.2 577.6,293.4 580.3,286.4 583.1,285.0 585.9,285.0 588.7,285.0 591.5,289.6 594.3,285.0 597.1,288.5 599.9,293.4 602.7,285.0 605.5,296.3 608.3,288.5 609.3,286.7 611.1,285.6 613.8,323.9 616.6,292.0 619.4,292.0 622.2,285.6 625.0,285.0 627.8,285.0 630.6,285.6 633.4,285.6 636.2,291.7 639.0,286.2 641.8,285.6 644.6,286.2 647.4,285.0 650.1,285.6 652.9,294.9 655.7,286.7 658.5,285.6 661.3,287.3 664.1,289.6 666.9,288.5 669.7,286.7 671.1,286.2"/>
<g fill="none" stroke="#2a2aff" stroke-width="0.55" stroke-opacity="0.85">
<circle cx="424.0" cy="294.3" r="2.4"/>
<circle cx="426.8" cy="288.5" r="2.4"/>
<circle cx="429.6" cy="290.2" r="2.4"/>
<circle cx="432.4" cy="301.2" r="2.4"/>
<circle cx="435.2" cy="286.4" r="2.4"/>
<circle cx="438.0" cy="289.6" r="2.4"/>
<circle cx="440.7" cy="294.9" r="2.4"/>
<circle cx="443.5" cy="289.1" r="2.4"/>
<circle cx="446.3" cy="285.0" r="2.4"/>
<circle cx="449.1" cy="287.3" r="2.4"/>
<circle cx="450.2" cy="286.2" r="2.4"/>
<circle cx="451.9" cy="290.2" r="2.4"/>
<circle cx="454.7" cy="300.7" r="2.4"/>
<circle cx="456.6" cy="286.2" r="2.4"/>
<circle cx="457.5" cy="300.7" r="2.4"/>
<circle cx="460.3" cy="287.9" r="2.4"/>
<circle cx="463.1" cy="285.0" r="2.4"/>
<circle cx="465.9" cy="287.3" r="2.4"/>
<circle cx="466.6" cy="285.0" r="2.4"/>
<circle cx="468.7" cy="285.0" r="2.4"/>
<circle cx="471.5" cy="285.6" r="2.4"/>
<circle cx="474.0" cy="305.3" r="2.4"/>
<circle cx="475.1" cy="286.2" r="2.4"/>
<circle cx="477.0" cy="295.4" r="2.4"/>
<circle cx="479.8" cy="362.7" r="2.4"/>
<circle cx="482.6" cy="287.3" r="2.4"/>
<circle cx="484.4" cy="292.0" r="2.4"/>
<circle cx="485.4" cy="292.5" r="2.4"/>
<circle cx="488.2" cy="298.3" r="2.4"/>
<circle cx="491.0" cy="284.4" r="2.4"/>
<circle cx="493.8" cy="292.0" r="2.4"/>
<circle cx="496.6" cy="304.1" r="2.4"/>
<circle cx="499.4" cy="288.5" r="2.4"/>
<circle cx="499.6" cy="289.1" r="2.4"/>
<circle cx="502.2" cy="290.2" r="2.4"/>
<circle cx="505.0" cy="285.0" r="2.4"/>
<circle cx="507.8" cy="292.0" r="2.4"/>
<circle cx="510.5" cy="287.3" r="2.4"/>
<circle cx="513.3" cy="287.3" r="2.4"/>
<circle cx="516.1" cy="323.9" r="2.4"/>
<circle cx="518.9" cy="293.7" r="2.4"/>
<circle cx="521.7" cy="286.4" r="2.4"/>
<circle cx="524.1" cy="452.6" r="2.4"/>
<circle cx="525.1" cy="309.4" r="2.4"/>
<circle cx="527.3" cy="295.4" r="2.4"/>
<circle cx="530.1" cy="337.2" r="2.4"/>
<circle cx="532.9" cy="287.3" r="2.4"/>
<circle cx="535.7" cy="297.2" r="2.4"/>
<circle cx="538.5" cy="285.0" r="2.4"/>
<circle cx="541.3" cy="287.3" r="2.4"/>
<circle cx="544.0" cy="286.4" r="2.4"/>
<circle cx="546.8" cy="303.0" r="2.4"/>
<circle cx="549.6" cy="285.0" r="2.4"/>
<circle cx="552.4" cy="285.0" r="2.4"/>
<circle cx="555.2" cy="284.4" r="2.4"/>
<circle cx="558.0" cy="285.0" r="2.4"/>
<circle cx="560.8" cy="285.6" r="2.4"/>
<circle cx="563.6" cy="318.1" r="2.4"/>
<circle cx="566.4" cy="292.5" r="2.4"/>
<circle cx="568.9" cy="301.2" r="2.4"/>
<circle cx="569.5" cy="412.6" r="2.4"/>
<circle cx="572.0" cy="285.6" r="2.4"/>
<circle cx="574.8" cy="286.2" r="2.4"/>
<circle cx="577.6" cy="293.4" r="2.4"/>
<circle cx="580.3" cy="286.4" r="2.4"/>
<circle cx="583.1" cy="285.0" r="2.4"/>
<circle cx="585.9" cy="285.0" r="2.4"/>
<circle cx="588.7" cy="285.0" r="2.4"/>
<circle cx="591.5" cy="289.6" r="2.4"/>
<circle cx="594.3" cy="285.0" r="2.4"/>
<circle cx="597.1" cy="288.5" r="2.4"/>
<circle cx="599.9" cy="293.4" r="2.4"/>
<circle cx="602.7" cy="285.0" r="2.4"/>
<circle cx="605.5" cy="296.3" r="2.4"/>
<circle cx="608.3" cy="288.5" r="2.4"/>
<circle cx="609.3" cy="286.7" r="2.4"/>
<circle cx="611.1" cy="285.6" r="2.4"/>
<circle cx="613.8" cy="323.9" r="2.4"/>
<circle cx="616.6" cy="292.0" r="2.4"/>
<circle cx="619.4" cy="292.0" r="2.4"/>
<circle cx="622.2" cy="285.6" r="2.4"/>
<circle cx="625.0" cy="285.0" r="2.4"/>
<circle cx="627.8" cy="285.0" r="2.4"/>
<circle cx="630.6" cy="285.6" r="2.4"/>
<circle cx="633.4" cy="285.6" r="2.4"/>
<circle cx="636.2" cy="291.7" r="2.4"/>
<circle cx="639.0" cy="286.2" r="2.4"/>
<circle cx="641.8" cy="285.6" r="2.4"/>
<circle cx="644.6" cy="286.2" r="2.4"/>
<circle cx="647.4" cy="285.0" r="2.4"/>
<circle cx="650.1" cy="285.6" r="2.4"/>
<circle cx="652.9" cy="294.9" r="2.4"/>
<circle cx="655.7" cy="286.7" r="2.4"/>
<circle cx="658.5" cy="285.6" r="2.4"/>
<circle cx="661.3" cy="287.3" r="2.4"/>
<circle cx="664.1" cy="289.6" r="2.4"/>
<circle cx="666.9" cy="288.5" r="2.4"/>
<circle cx="669.7" cy="286.7" r="2.4"/>
<circle cx="671.1" cy="286.2" r="2.4"/>
</g>
<rect x="421.2" y="273.3" width="252.3" height="185.7" fill="none" stroke="#222" stroke-width="1"/>
<path d="M421.2 459.0h4M421.2 444.5h2.2M421.2 430.0h4M421.2 415.5h2.2M421.2 401.0h4M421.2 386.5h2.2M421.2 372.0h4M421.2 357.5h2.2M421.2 343.0h4M421.2 328.5h2.2M421.2 314.0h4M421.2 299.5h2.2M421.2 285.0h4M421.2 459.0v-4M442.1 459.0v-2.2M463.1 459.0v-4M484.0 459.0v-2.2M505.0 459.0v-4M525.9 459.0v-2.2M546.8 459.0v-4M567.8 459.0v-2.2M588.7 459.0v-4M609.7 459.0v-2.2M630.6 459.0v-4M651.5 459.0v-2.2M672.5 459.0v-4" stroke="#222" stroke-width="1" fill="none"/>
<text x="416.9" y="463.0" font-size="11.3" font-weight="bold" fill="#000" text-anchor="end" >0.70</text>
<text x="416.9" y="434.0" font-size="11.3" font-weight="bold" fill="#000" text-anchor="end" >0.75</text>
<text x="416.9" y="405.0" font-size="11.3" font-weight="bold" fill="#000" text-anchor="end" >0.80</text>
<text x="416.9" y="376.0" font-size="11.3" font-weight="bold" fill="#000" text-anchor="end" >0.85</text>
<text x="416.9" y="347.00000000000006" font-size="11.3" font-weight="bold" fill="#000" text-anchor="end" >0.90</text>
<text x="416.9" y="318.0" font-size="11.3" font-weight="bold" fill="#000" text-anchor="end" >0.95</text>
<text x="416.9" y="289.0" font-size="11.3" font-weight="bold" fill="#000" text-anchor="end" >1.00</text>
<text x="421.2" y="472.3" font-size="11.3" font-weight="bold" fill="#000" text-anchor="middle" >0</text>
<text x="463.1" y="472.3" font-size="11.3" font-weight="bold" fill="#000" text-anchor="middle" >15</text>
<text x="505.0" y="472.3" font-size="11.3" font-weight="bold" fill="#000" text-anchor="middle" >30</text>
<text x="546.8" y="472.3" font-size="11.3" font-weight="bold" fill="#000" text-anchor="middle" >45</text>
<text x="588.7" y="472.3" font-size="11.3" font-weight="bold" fill="#000" text-anchor="middle" >60</text>
<text x="630.6" y="472.3" font-size="11.3" font-weight="bold" fill="#000" text-anchor="middle" >75</text>
<text x="672.5" y="472.3" font-size="11.3" font-weight="bold" fill="#000" text-anchor="middle" >90</text>
<text x="539" y="488" font-size="12.6" font-weight="bold" text-anchor="middle">Twisted angle <tspan font-style="italic">φ</tspan><tspan font-weight="normal"> (°)</tspan></text>
<text transform="translate(383.5,377) rotate(-90)" font-size="12.6" font-weight="bold" text-anchor="middle">Anisotropic degree</text>
</g>
<g id="heat-f">
<rect x="43.0" y="509.0" width="582.0" height="144.5" fill="url(#heat)"/>
<path d="M52.7 510.5V653.5M80.1 510.5V653.5M99.6 510.5V653.5M111.2 510.5V653.5M126.5 510.5V653.5M149.5 510.5V653.5M165.9 510.5V653.5M189.2 510.5V653.5M226 510.5V653.5M249.6 510.5V653.5M281.4 510.5V653.5M307.2 510.5V653.5M325 510.5V653.5M343 510.5V653.5M360.1 510.5V653.5M384.6 510.5V653.5M417.9 510.5V653.5M438.9 510.5V653.5M475.8 510.5V653.5M499.4 510.5V653.5M515.4 510.5V653.5M537.7 510.5V653.5M553.7 510.5V653.5M565.1 510.5V653.5M585.9 510.5V653.5M614.9 510.5V653.5M621 510.5V653.5" stroke="#0a0a0a" stroke-width="1.5" stroke-dasharray="7.6 3.4" fill="none"/>
<path d="M76.1 653.5v-8M108.2 653.5v-8M140.3 653.5v-8M172.4 653.5v-8M204.5 653.5v-8M236.6 653.5v-8M268.7 653.5v-8M300.8 653.5v-8M332.9 653.5v-8M365.0 653.5v-8M397.1 653.5v-8M429.2 653.5v-8M461.3 653.5v-8M493.4 653.5v-8M525.5 653.5v-8M557.6 653.5v-8M589.7 653.5v-8M43.0 540.3h8.5M43.0 570.3h8.5M43.0 600.7h8.5M43.0 631.6h8.5" stroke="#000" stroke-width="1.5" fill="none"/>
<rect x="43.0" y="509.0" width="582.0" height="144.5" fill="none" stroke="#000" stroke-width="1.4"/>
<rect x="47.7" y="630.2" width="22.5" height="9.9" fill="#d9efe9" fill-opacity="0.86" stroke="#222" stroke-width="0.5" stroke-dasharray="1.6 1.1"/>
<text class="se" x="59.0" y="637.3" font-size="6.2" font-weight="bold" fill="#2a2a2a" text-anchor="middle">1.10°</text>
<rect x="68" y="602.4" width="25.0" height="9.5" fill="#d9efe9" fill-opacity="0.86" stroke="#222" stroke-width="0.5" stroke-dasharray="1.6 1.1"/>
<text class="se" x="80.5" y="609.2" font-size="6.2" font-weight="bold" fill="#2a2a2a" text-anchor="middle">5.72°</text>
<rect x="88.2" y="621.5" width="23.0" height="10.0" fill="#d9efe9" fill-opacity="0.86" stroke="#222" stroke-width="0.5" stroke-dasharray="1.6 1.1"/>
<text class="se" x="99.7" y="628.6" font-size="6.2" font-weight="bold" fill="#2a2a2a" text-anchor="middle">8.80°</text>
<rect x="100.2" y="607.8" width="25.2" height="10.1" fill="#d9efe9" fill-opacity="0.86" stroke="#222" stroke-width="0.5" stroke-dasharray="1.6 1.1"/>
<text class="se" x="112.8" y="614.9" font-size="6.2" font-weight="bold" fill="#2a2a2a" text-anchor="middle">10.39°</text>
<rect x="115.1" y="593.2" width="25.2" height="10.2" fill="#d9efe9" fill-opacity="0.86" stroke="#222" stroke-width="0.5" stroke-dasharray="1.6 1.1"/>
<text class="se" x="127.7" y="600.4" font-size="6.2" font-weight="bold" fill="#2a2a2a" text-anchor="middle">12.68°</text>
<rect x="135.2" y="579.2" width="25.2" height="10.4" fill="#d9efe9" fill-opacity="0.86" stroke="#222" stroke-width="0.5" stroke-dasharray="1.6 1.1"/>
<text class="se" x="147.8" y="586.5" font-size="6.2" font-weight="bold" fill="#2a2a2a" text-anchor="middle">16.26°</text>
<rect x="155.6" y="602" width="25.0" height="9.6" fill="#d9efe9" fill-opacity="0.86" stroke="#222" stroke-width="0.5" stroke-dasharray="1.6 1.1"/>
<text class="se" x="168.1" y="608.9" font-size="6.2" font-weight="bold" fill="#2a2a2a" text-anchor="middle">18.92°</text>
<rect x="179" y="566.5" width="25.0" height="10.2" fill="#d9efe9" fill-opacity="0.86" stroke="#222" stroke-width="0.5" stroke-dasharray="1.6 1.1"/>
<text class="se" x="191.5" y="573.7" font-size="6.2" font-weight="bold" fill="#2a2a2a" text-anchor="middle">22.62°</text>
<rect x="213.9" y="566.5" width="25.2" height="10.2" fill="#d9efe9" fill-opacity="0.86" stroke="#222" stroke-width="0.5" stroke-dasharray="1.6 1.1"/>
<text class="se" x="226.5" y="573.7" font-size="6.2" font-weight="bold" fill="#2a2a2a" text-anchor="middle">28.07°</text>
<rect x="268.2" y="566.5" width="25.2" height="10.2" fill="#d9efe9" fill-opacity="0.86" stroke="#222" stroke-width="0.5" stroke-dasharray="1.6 1.1"/>
<text class="se" x="280.8" y="573.7" font-size="6.2" font-weight="bold" fill="#2a2a2a" text-anchor="middle">36.87°</text>
<rect x="296" y="554.9" width="25.2" height="9.5" fill="#d9efe9" fill-opacity="0.86" stroke="#222" stroke-width="0.5" stroke-dasharray="1.6 1.1"/>
<text class="se" x="308.6" y="561.8" font-size="6.2" font-weight="bold" fill="#2a2a2a" text-anchor="middle">41.61°</text>
<rect x="314.2" y="532.6" width="19.3" height="9.0" fill="#d9efe9" fill-opacity="0.86" stroke="#222" stroke-width="0.5" stroke-dasharray="1.6 1.1"/>
<text class="se" x="323.9" y="539.2" font-size="6.2" font-weight="bold" fill="#2a2a2a" text-anchor="middle">44.44°</text>
<rect x="336.1" y="532.6" width="20.6" height="9.0" fill="#d9efe9" fill-opacity="0.86" stroke="#222" stroke-width="0.5" stroke-dasharray="1.6 1.1"/>
<text class="se" x="346.4" y="539.2" font-size="6.2" font-weight="bold" fill="#2a2a2a" text-anchor="middle">45.56°</text>
<rect x="343.1" y="554.9" width="23.6" height="9.5" fill="#d9efe9" fill-opacity="0.86" stroke="#222" stroke-width="0.5" stroke-dasharray="1.6 1.1"/>
<text class="se" x="354.9" y="561.8" font-size="6.2" font-weight="bold" fill="#2a2a2a" text-anchor="middle">48.39°</text>
<rect x="374.3" y="566.5" width="21.9" height="10.2" fill="#d9efe9" fill-opacity="0.86" stroke="#222" stroke-width="0.5" stroke-dasharray="1.6 1.1"/>
<text class="se" x="385.2" y="573.7" font-size="6.2" font-weight="bold" fill="#2a2a2a" text-anchor="middle">53.13°</text>
<rect x="427.3" y="566.5" width="25.2" height="10.2" fill="#d9efe9" fill-opacity="0.86" stroke="#222" stroke-width="0.5" stroke-dasharray="1.6 1.1"/>
<text class="se" x="439.9" y="573.7" font-size="6.2" font-weight="bold" fill="#2a2a2a" text-anchor="middle">61.93°</text>
<rect x="465.5" y="566" width="24.1" height="10.2" fill="#d9efe9" fill-opacity="0.86" stroke="#222" stroke-width="0.5" stroke-dasharray="1.6 1.1"/>
<text class="se" x="477.6" y="573.2" font-size="6.2" font-weight="bold" fill="#2a2a2a" text-anchor="middle">67.38°</text>
<rect x="503.1" y="579.2" width="25.4" height="10.4" fill="#d9efe9" fill-opacity="0.86" stroke="#222" stroke-width="0.5" stroke-dasharray="1.6 1.1"/>
<text class="se" x="515.8" y="586.5" font-size="6.2" font-weight="bold" fill="#2a2a2a" text-anchor="middle">73.74°</text>
<rect x="486.9" y="602.4" width="25.2" height="9.2" fill="#d9efe9" fill-opacity="0.86" stroke="#222" stroke-width="0.5" stroke-dasharray="1.6 1.1"/>
<text class="se" x="499.5" y="609.1" font-size="6.2" font-weight="bold" fill="#2a2a2a" text-anchor="middle">71.06°</text>
<rect x="527.2" y="593.2" width="25.2" height="10.2" fill="#d9efe9" fill-opacity="0.86" stroke="#222" stroke-width="0.5" stroke-dasharray="1.6 1.1"/>
<text class="se" x="539.8" y="600.4" font-size="6.2" font-weight="bold" fill="#2a2a2a" text-anchor="middle">77.32°</text>
<rect x="539.9" y="607.8" width="25.2" height="10.1" fill="#d9efe9" fill-opacity="0.86" stroke="#222" stroke-width="0.5" stroke-dasharray="1.6 1.1"/>
<text class="se" x="552.5" y="614.9" font-size="6.2" font-weight="bold" fill="#2a2a2a" text-anchor="middle">79.61°</text>
<rect x="555.9" y="621.5" width="25.6" height="10.0" fill="#d9efe9" fill-opacity="0.86" stroke="#222" stroke-width="0.5" stroke-dasharray="1.6 1.1"/>
<text class="se" x="568.7" y="628.6" font-size="6.2" font-weight="bold" fill="#2a2a2a" text-anchor="middle">81.20°</text>
<rect x="578.2" y="597.4" width="25.2" height="9.4" fill="#d9efe9" fill-opacity="0.86" stroke="#222" stroke-width="0.5" stroke-dasharray="1.6 1.1"/>
<text class="se" x="590.8" y="604.2" font-size="6.2" font-weight="bold" fill="#2a2a2a" text-anchor="middle">84.28°</text>
<rect x="596" y="628" width="23.6" height="9.7" fill="#d9efe9" fill-opacity="0.86" stroke="#222" stroke-width="0.5" stroke-dasharray="1.6 1.1"/>
<text class="se" x="607.8" y="635.0" font-size="6.2" font-weight="bold" fill="#2a2a2a" text-anchor="middle">88.85°</text>
<text x="43.7" y="666.6" font-size="11" font-weight="normal" fill="#000" text-anchor="middle" >0</text>
<text x="75.8" y="666.6" font-size="11" font-weight="normal" fill="#000" text-anchor="middle" >5</text>
<text x="107.9" y="666.6" font-size="11" font-weight="normal" fill="#000" text-anchor="middle" >10</text>
<text x="140.0" y="666.6" font-size="11" font-weight="normal" fill="#000" text-anchor="middle" >15</text>
<text x="172.1" y="666.6" font-size="11" font-weight="normal" fill="#000" text-anchor="middle" >20</text>
<text x="204.2" y="666.6" font-size="11" font-weight="normal" fill="#000" text-anchor="middle" >25</text>
<text x="236.3" y="666.6" font-size="11" font-weight="normal" fill="#000" text-anchor="middle" >30</text>
<text x="268.4" y="666.6" font-size="11" font-weight="normal" fill="#000" text-anchor="middle" >35</text>
<text x="300.5" y="666.6" font-size="11" font-weight="normal" fill="#000" text-anchor="middle" >40</text>
<text x="332.6" y="666.6" font-size="11" font-weight="normal" fill="#000" text-anchor="middle" >45</text>
<text x="364.7" y="666.6" font-size="11" font-weight="normal" fill="#000" text-anchor="middle" >50</text>
<text x="396.8" y="666.6" font-size="11" font-weight="normal" fill="#000" text-anchor="middle" >55</text>
<text x="428.9" y="666.6" font-size="11" font-weight="normal" fill="#000" text-anchor="middle" >60</text>
<text x="461.0" y="666.6" font-size="11" font-weight="normal" fill="#000" text-anchor="middle" >65</text>
<text x="493.1" y="666.6" font-size="11" font-weight="normal" fill="#000" text-anchor="middle" >70</text>
<text x="525.2" y="666.6" font-size="11" font-weight="normal" fill="#000" text-anchor="middle" >75</text>
<text x="557.3" y="666.6" font-size="11" font-weight="normal" fill="#000" text-anchor="middle" >80</text>
<text x="589.4" y="666.6" font-size="11" font-weight="normal" fill="#000" text-anchor="middle" >85</text>
<text x="621.5" y="666.6" font-size="11" font-weight="normal" fill="#000" text-anchor="middle" >90</text>
<text x="33.5" y="657.5" font-size="11" font-weight="normal" fill="#000" text-anchor="end" >0</text>
<text x="33.5" y="632.9" font-size="11" font-weight="normal" fill="#000" text-anchor="end" >0.2</text>
<text x="33.5" y="603.1999999999999" font-size="11" font-weight="normal" fill="#000" text-anchor="end" >0.4</text>
<text x="33.5" y="572.1999999999999" font-size="11" font-weight="normal" fill="#000" text-anchor="end" >0.6</text>
<text x="33.5" y="541.1" font-size="11" font-weight="normal" fill="#000" text-anchor="end" >0.8</text>
<text x="33.5" y="512.9" font-size="11" font-weight="normal" fill="#000" text-anchor="end" >1.0</text>
<text transform="translate(8.8,576) rotate(-90)" font-size="15" font-weight="bold" text-anchor="middle">p<tspan font-size="10.5" dy="3">c</tspan></text>
<text x="333" y="681" font-size="15" font-weight="bold" text-anchor="middle"><tspan font-style="italic">φ</tspan><tspan font-weight="normal"> (°)</tspan></text>
<rect x="644" y="518.6" width="13.6" height="124.7" fill="url(#fo)"/>
<text x="651" y="513.8" font-size="12" font-weight="bold" fill="#000" text-anchor="middle" >1200</text>
<text x="651" y="656.3" font-size="12" font-weight="bold" fill="#000" text-anchor="middle" >0</text>
<text x="662.5" y="585.6" font-size="18" font-weight="bold" fill="#000" text-anchor="start" >Fo</text>
</g>
<text x="3.5" y="40" font-size="23" font-weight="bold" fill="#000" text-anchor="start" >a</text>
<text x="350.5" y="40.3" font-size="23" font-weight="bold" fill="#000" text-anchor="start" >b</text>
<text x="7" y="295" font-size="23" font-weight="bold" fill="#000" text-anchor="start" >c</text>
<text x="199.8" y="294" font-size="20.5" font-weight="bold" fill="#000" text-anchor="start" >d</text>
<text x="373.5" y="294.3" font-size="23" font-weight="bold" fill="#000" text-anchor="start" >e</text>
<text x="2" y="519" font-size="21" font-weight="bold" fill="#000" text-anchor="start" >f</text>
<text x="102.3" y="28.3" font-size="16" font-weight="bold" fill="#c00000" text-anchor="middle" >Commensurable</text>
<text x="455.2" y="26.3" font-size="16" font-weight="bold" fill="#c00000" text-anchor="middle" >Commensurable</text>
<text x="107.7" y="290.1" font-size="16" font-weight="bold" fill="#0070c0" text-anchor="middle" >Incommensurable</text>
<text x="104.4" y="243.1" font-size="16" font-weight="bold" fill="#c00000" text-anchor="middle" >36.87°</text>
<text x="455" y="238.2" font-size="16" font-weight="bold" fill="#c00000" text-anchor="middle" >22.62°</text>
<text x="107.4" y="496.7" font-size="16" font-weight="bold" fill="#0070c0" text-anchor="middle" >30°</text>
<rect x="52.6" y="214.8" width="95.70000000000002" height="8.799999999999983" fill="url(#sal)"/>
<text x="31.5" y="223.2" font-size="12" font-weight="bold" fill="#000" text-anchor="start" >0.1</text>
<text x="152.6" y="223.2" font-size="12" font-weight="bold" fill="#000" text-anchor="start" >10</text>
<rect x="406.4" y="210.4" width="95.70000000000005" height="8.799999999999983" fill="url(#sal)"/>
<text x="385.3" y="219.2" font-size="12" font-weight="bold" fill="#000" text-anchor="start" >0.1</text>
<text x="506.5" y="219.2" font-size="12" font-weight="bold" fill="#000" text-anchor="start" >10</text>
<rect x="58.4" y="471.9" width="95.5" height="8.800000000000011" fill="url(#sal)"/>
<text x="38" y="480.7" font-size="12" font-weight="bold" fill="#000" text-anchor="start" >0.1</text>
<text x="159" y="480.7" font-size="12" font-weight="bold" fill="#000" text-anchor="start" >10</text>
<rect x="218.4" y="2.3" width="96.20000000000002" height="9.8" fill="url(#jet)"/>
<text x="215.5" y="11.7" font-size="13" font-weight="bold" fill="#000" text-anchor="end" >min</text>
<text x="319" y="11.7" font-size="13" font-weight="bold" fill="#000" text-anchor="start" >max</text>
<rect x="558.6" y="-1" width="96.79999999999995" height="10.9" fill="url(#jet)"/>
<text x="555" y="9.4" font-size="13" font-weight="bold" fill="#000" text-anchor="end" >min</text>
<text x="659.5" y="9.4" font-size="13" font-weight="bold" fill="#000" text-anchor="start" >max</text>
<rect x="227.8" y="259.4" width="96.80000000000001" height="10.5" fill="url(#jet)"/>
<text x="224.5" y="269.2" font-size="13" font-weight="bold" fill="#000" text-anchor="end" >min</text>
<text x="329" y="269.2" font-size="13" font-weight="bold" fill="#000" text-anchor="start" >max</text>
<rect x="224.8" y="222.8" width="96.30000000000001" height="9.899999999999977" fill="url(#par)"/>
<text x="218" y="232.2" font-size="12" font-weight="bold" fill="#000" text-anchor="end" >-1</text>
<text x="325.5" y="232.2" font-size="12" font-weight="bold" fill="#000" text-anchor="start" >1</text>
<rect x="568.5" y="222.3" width="96.39999999999998" height="9.599999999999994" fill="url(#par)"/>
<text x="562" y="231.5" font-size="12" font-weight="bold" fill="#000" text-anchor="end" >-1</text>
<text x="669.5" y="231.5" font-size="12" font-weight="bold" fill="#000" text-anchor="start" >1</text>
<rect x="232.2" y="484" width="96.40000000000003" height="9.399999999999977" fill="url(#par)"/>
<text x="225.5" y="493.2" font-size="12" font-weight="bold" fill="#000" text-anchor="end" >-1</text>
<text x="333.5" y="493.2" font-size="12" font-weight="bold" fill="#000" text-anchor="start" >1</text>
</svg>
</body></html>
